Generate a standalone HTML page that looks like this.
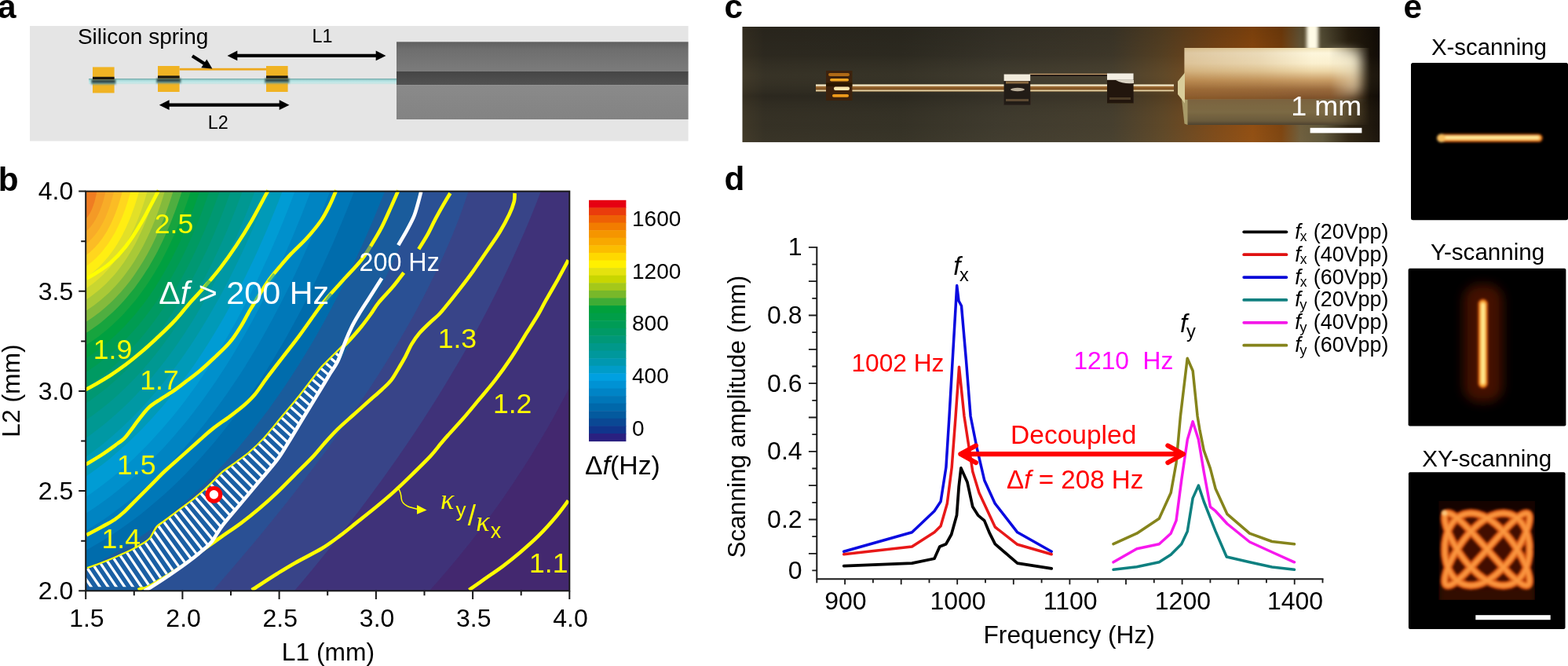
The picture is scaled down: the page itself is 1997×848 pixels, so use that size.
<!DOCTYPE html>
<html lang="en"><head><meta charset="utf-8"><title>Figure</title>
<style>
html,body{margin:0;padding:0;background:#fff;}
body{width:1997px;height:848px;overflow:hidden;}
svg{display:block;}
text{font-family:"Liberation Sans", sans-serif;}
.lbl{font-weight:bold;font-size:42.3px;fill:#000;}
.it{font-style:italic;}
.ser{font-family:"Liberation Serif","DejaVu Serif",serif;font-style:italic;}
</style></head>
<body>
<svg width="1997" height="848" viewBox="0 0 1997 848">
<defs>
<linearGradient id="gA1" x1="0" y1="0" x2="0" y2="1"><stop offset="0" stop-color="#5f5f5f"/><stop offset="0.25" stop-color="#6e6e6e"/><stop offset="1" stop-color="#7c7c7c"/></linearGradient>
<linearGradient id="gA2" x1="0" y1="0" x2="0" y2="1"><stop offset="0" stop-color="#454545"/><stop offset="1" stop-color="#535353"/></linearGradient>
<linearGradient id="gA3" x1="0" y1="0" x2="0" y2="1"><stop offset="0" stop-color="#8a8a8a"/><stop offset="1" stop-color="#838383"/></linearGradient>
<linearGradient id="gAf" x1="0" y1="0" x2="0" y2="1"><stop offset="0" stop-color="#6fa5a5"/><stop offset="0.3" stop-color="#a5d8d8"/><stop offset="0.6" stop-color="#bfe8e8"/><stop offset="1" stop-color="#cfe4e2"/></linearGradient>
<filter id="blA" x="-20%" y="-50%" width="140%" height="200%"><feGaussianBlur stdDeviation="1.2"/></filter>
</defs>
<g id="panel-a">
<text class="lbl" x="-2.9" y="23.4">a</text>
<rect x="38" y="33" width="838.6" height="146.6" fill="#e5e5e5"/>
<rect x="505" y="53.3" width="371.6" height="38" fill="url(#gA1)"/>
<rect x="505" y="91" width="371.6" height="17.5" fill="url(#gA2)"/>
<rect x="505" y="108.5" width="371.6" height="43.5" fill="url(#gA3)"/>
<rect x="113" y="100" width="392" height="7.2" fill="url(#gAf)"/>
<rect x="118" y="85.4" width="27.6" height="33" fill="#f0b323"/>
<rect x="116" y="101.0" width="31.6" height="6.6" fill="#6a9a9a" filter="url(#blA)"/>
<rect x="117" y="101.80000000000001" width="29.6" height="3.4" fill="#1e2a28" opacity="0.8" filter="url(#blA)"/>
<rect x="118" y="97.80000000000001" width="27.6" height="3.2" fill="#1a160e"/>
<rect x="201" y="84" width="27.6" height="33" fill="#f0b323"/>
<rect x="199" y="99.6" width="31.6" height="6.6" fill="#6a9a9a" filter="url(#blA)"/>
<rect x="200" y="100.4" width="29.6" height="3.4" fill="#1e2a28" opacity="0.8" filter="url(#blA)"/>
<rect x="201" y="96.4" width="27.6" height="3.2" fill="#1a160e"/>
<rect x="339" y="84" width="27.6" height="33" fill="#f0b323"/>
<rect x="337" y="99.6" width="31.6" height="6.6" fill="#6a9a9a" filter="url(#blA)"/>
<rect x="338" y="100.4" width="29.6" height="3.4" fill="#1e2a28" opacity="0.8" filter="url(#blA)"/>
<rect x="339" y="96.4" width="27.6" height="3.2" fill="#1a160e"/>
<rect x="228.6" y="86.8" width="110.4" height="2.8" fill="#eda81e"/>
<path d="M301.3,68.80000000000001H479.7V73.0H301.3Z" fill="#000"/><path d="M289.5,70.9L302.3,64.5V77.30000000000001Z" fill="#000"/><path d="M491.5,70.9L478.7,64.5V77.30000000000001Z" fill="#000"/>
<path d="M214.60000000000002,131.6H356.7V135.79999999999998H214.60000000000002Z" fill="#000"/><path d="M202.8,133.7L215.60000000000002,127.29999999999998V140.1Z" fill="#000"/><path d="M368.5,133.7L355.7,127.29999999999998V140.1Z" fill="#000"/>
<path d="M244.9,71.2L261,81.5" stroke="#000" stroke-width="4.3" fill="none"/>
<path d="M270.4,87.6L256.3,86.3L263.3,75.4Z" fill="#000"/>
<text x="98.9" y="56.3" font-size="28" fill="#000">Silicon spring</text>
<text x="410.6" y="53.6" font-size="23.4" fill="#000" text-anchor="middle">L1</text>
<text x="277.8" y="163.8" font-size="23.4" fill="#000" text-anchor="middle">L2</text>
</g>
<defs>
<clipPath id="clipB"><rect x="109.2" y="243.6" width="616.0999999999999" height="508.69999999999993"/></clipPath>
<pattern id="hatch" patternUnits="userSpaceOnUse" width="9.5" height="9.5" patternTransform="rotate(-33.7)"><rect x="0" y="0" width="9.5" height="9.5" fill="#1a5fa4"/><rect x="0" y="0" width="3.8" height="9.5" fill="#fff"/></pattern>
</defs>
<g id="panel-b">
<text class="lbl" x="-2.2" y="242.5">b</text>
<g clip-path="url(#clipB)">
<rect x="109.2" y="243.6" width="616.0999999999999" height="508.69999999999993" fill="#ef7d22"/>
<path d="M194.8,-149.6L123.3,244.0L123.1,245.3L122.8,246.5L122.6,247.7L122.3,248.9L122.1,250.1L121.8,251.2L121.5,252.3L121.3,253.5L121.0,254.6L120.7,255.6L120.4,256.7L120.1,257.7L119.8,258.8L119.5,259.8L119.1,260.7L118.8,261.7L118.5,262.6L118.1,263.6L117.8,264.5L117.4,265.4L117.1,266.2L116.7,267.1L116.3,267.9L116.0,268.7L115.6,269.5L115.2,270.3L114.8,271.0L114.4,271.7L114.0,272.4L113.5,273.1L113.1,273.8L112.7,274.5L112.2,275.1L111.8,275.7L111.4,276.3L110.9,276.9L110.4,277.4L110.0,278.0L109.5,278.5L109.0,279.0L-172.7,562.9L-2000.0,4000.0L4000.0,4000.0L4000.0,-2000.0Z" fill="#f49a26"/>
<path d="M221.3,-146.5L134.5,244.0L134.1,245.8L133.7,247.6L133.2,249.4L132.8,251.1L132.3,252.8L131.8,254.5L131.4,256.2L130.9,257.8L130.4,259.4L129.8,261.0L129.3,262.5L128.8,264.0L128.2,265.5L127.7,267.0L127.1,268.4L126.5,269.8L125.9,271.2L125.3,272.5L124.7,273.8L124.0,275.1L123.4,276.4L122.7,277.6L122.1,278.8L121.4,280.0L120.7,281.1L120.0,282.3L119.3,283.3L118.6,284.4L117.8,285.4L117.1,286.5L116.3,287.4L115.6,288.4L114.8,289.3L114.0,290.2L113.2,291.1L112.4,291.9L111.5,292.7L110.7,293.5L109.9,294.3L109.0,295.0L-199.8,549.3L-2000.0,4000.0L4000.0,4000.0L4000.0,-2000.0Z" fill="#f8ac28"/>
<path d="M238.3,-145.0L145.1,244.0L144.5,246.4L143.9,248.8L143.3,251.1L142.7,253.4L142.0,255.6L141.3,257.8L140.7,260.0L140.0,262.1L139.2,264.2L138.5,266.3L137.8,268.3L137.0,270.3L136.2,272.2L135.4,274.2L134.6,276.0L133.8,277.9L132.9,279.7L132.1,281.4L131.2,283.2L130.3,284.9L129.4,286.5L128.5,288.1L127.5,289.7L126.6,291.3L125.6,292.8L124.6,294.3L123.6,295.7L122.6,297.1L121.5,298.5L120.5,299.8L119.4,301.1L118.3,302.3L117.2,303.5L116.1,304.7L114.9,305.8L113.8,307.0L112.6,308.0L111.4,309.1L110.2,310.0L109.0,311.0L-208.8,553.9L-2000.0,4000.0L4000.0,4000.0L4000.0,-2000.0Z" fill="#fbbc25"/>
<path d="M254.5,-143.6L155.7,244.0L154.9,246.9L154.2,249.8L153.4,252.6L152.5,255.4L151.7,258.1L150.8,260.8L150.0,263.4L149.0,266.0L148.1,268.6L147.2,271.1L146.2,273.5L145.2,275.9L144.2,278.3L143.2,280.6L142.1,282.9L141.1,285.2L140.0,287.3L138.8,289.5L137.7,291.6L136.6,293.7L135.4,295.7L134.2,297.6L133.0,299.6L131.7,301.4L130.5,303.3L129.2,305.1L127.9,306.8L126.5,308.5L125.2,310.2L123.8,311.8L122.4,313.3L121.0,314.9L119.6,316.3L118.1,317.8L116.7,319.1L115.2,320.5L113.7,321.8L112.1,323.0L110.6,324.2L109.0,325.4L-216.0,558.6L-2000.0,4000.0L4000.0,4000.0L4000.0,-2000.0Z" fill="#ffd61e"/>
<path d="M269.4,-142.5L166.3,244.0L165.4,247.4L164.4,250.8L163.4,254.1L162.4,257.3L161.4,260.5L160.3,263.7L159.3,266.8L158.1,269.8L157.0,272.8L155.8,275.8L154.7,278.6L153.4,281.5L152.2,284.3L150.9,287.0L149.6,289.7L148.3,292.3L147.0,294.9L145.6,297.4L144.2,299.8L142.8,302.3L141.4,304.6L139.9,306.9L138.4,309.2L136.9,311.4L135.3,313.5L133.7,315.6L132.1,317.7L130.5,319.7L128.9,321.6L127.2,323.5L125.5,325.3L123.8,327.1L122.0,328.9L120.2,330.5L118.4,332.2L116.6,333.7L114.7,335.3L112.8,336.7L110.9,338.1L109.0,339.5L-220.8,565.8L-2000.0,4000.0L4000.0,4000.0L4000.0,-2000.0Z" fill="#ffee12"/>
<path d="M283.3,-141.6L177.0,244.0L175.9,247.9L174.8,251.8L173.6,255.6L172.4,259.3L171.2,263.0L169.9,266.6L168.6,270.1L167.3,273.6L166.0,277.1L164.6,280.4L163.2,283.8L161.7,287.0L160.3,290.2L158.8,293.3L157.2,296.4L155.7,299.4L154.1,302.4L152.5,305.3L150.8,308.1L149.1,310.9L147.4,313.6L145.7,316.2L143.9,318.8L142.1,321.3L140.2,323.8L138.4,326.2L136.5,328.6L134.5,330.8L132.6,333.1L130.6,335.2L128.6,337.3L126.5,339.4L124.4,341.4L122.3,343.3L120.2,345.2L118.0,347.0L115.8,348.7L113.6,350.4L111.3,352.0L109.0,353.6L-224.3,574.8L-2000.0,4000.0L4000.0,4000.0L4000.0,-2000.0Z" fill="#e2e028"/>
<path d="M296.1,-141.0L187.5,244.0L186.2,248.4L184.9,252.8L183.6,257.1L182.2,261.3L180.8,265.4L179.3,269.5L177.8,273.5L176.3,277.4L174.8,281.3L173.2,285.1L171.5,288.9L169.9,292.5L168.2,296.1L166.5,299.7L164.7,303.1L162.9,306.5L161.0,309.9L159.2,313.1L157.3,316.3L155.3,319.5L153.3,322.5L151.3,325.5L149.3,328.4L147.2,331.3L145.1,334.1L142.9,336.8L140.7,339.4L138.5,342.0L136.2,344.5L133.9,347.0L131.6,349.4L129.2,351.7L126.8,353.9L124.4,356.1L121.9,358.2L119.4,360.2L116.8,362.2L114.3,364.1L111.7,365.9L109.0,367.7L-226.6,585.4L-2000.0,4000.0L4000.0,4000.0L4000.0,-2000.0Z" fill="#c9d630"/>
<path d="M309.4,-140.3L198.5,244.0L197.0,248.9L195.6,253.8L194.0,258.6L192.4,263.3L190.8,267.9L189.2,272.4L187.5,276.9L185.8,281.3L184.0,285.6L182.2,289.9L180.3,294.0L178.4,298.1L176.5,302.1L174.5,306.1L172.5,309.9L170.4,313.7L168.3,317.4L166.2,321.1L164.0,324.6L161.8,328.1L159.5,331.5L157.2,334.9L154.9,338.1L152.5,341.3L150.1,344.4L147.7,347.4L145.2,350.4L142.6,353.3L140.0,356.1L137.4,358.8L134.8,361.5L132.1,364.0L129.3,366.5L126.5,369.0L123.7,371.3L120.8,373.6L117.9,375.8L115.0,377.9L112.0,379.9L109.0,381.9L-228.8,596.2L-2000.0,4000.0L4000.0,4000.0L4000.0,-2000.0Z" fill="#a9c937"/>
<path d="M322.8,-139.7L209.7,244.0L208.1,249.4L206.4,254.8L204.7,260.0L202.9,265.2L201.1,270.3L199.2,275.3L197.3,280.3L195.3,285.1L193.3,289.9L191.3,294.5L189.2,299.1L187.1,303.6L184.9,308.1L182.7,312.4L180.4,316.7L178.1,320.8L175.7,324.9L173.3,328.9L170.9,332.9L168.4,336.7L165.9,340.5L163.3,344.1L160.6,347.7L158.0,351.2L155.2,354.7L152.5,358.0L149.7,361.3L146.8,364.4L143.9,367.5L141.0,370.5L138.0,373.5L134.9,376.3L131.8,379.1L128.7,381.7L125.5,384.3L122.3,386.8L119.1,389.2L115.8,391.6L112.4,393.8L109.0,396.0L-230.7,607.3L-2000.0,4000.0L4000.0,4000.0L4000.0,-2000.0Z" fill="#84ba3c"/>
<path d="M337.0,-138.6L220.4,244.0L218.6,249.9L216.7,255.8L214.7,261.5L212.7,267.2L210.7,272.7L208.6,278.2L206.5,283.6L204.3,288.9L202.1,294.1L199.8,299.2L197.5,304.2L195.1,309.2L192.7,314.0L190.2,318.7L187.7,323.4L185.1,328.0L182.5,332.4L179.8,336.8L177.1,341.1L174.3,345.3L171.5,349.4L168.7,353.4L165.8,357.4L162.8,361.2L159.8,364.9L156.8,368.6L153.7,372.2L150.5,375.6L147.3,379.0L144.1,382.3L140.8,385.5L137.4,388.6L134.1,391.6L130.6,394.6L127.1,397.4L123.6,400.1L120.0,402.8L116.4,405.3L112.7,407.8L109.0,410.2L-230.6,621.6L-2000.0,4000.0L4000.0,4000.0L4000.0,-2000.0Z" fill="#4fae40"/>
<path d="M352.1,-137.4L231.6,244.0L229.5,250.4L227.4,256.8L225.2,263.0L223.0,269.1L220.7,275.1L218.4,281.1L216.0,286.9L213.6,292.7L211.1,298.3L208.6,303.8L206.0,309.3L203.4,314.6L200.7,319.9L198.0,325.0L195.2,330.1L192.3,335.0L189.5,339.9L186.5,344.6L183.5,349.3L180.5,353.8L177.4,358.3L174.3,362.6L171.1,366.9L167.8,371.1L164.5,375.1L161.2,379.1L157.8,383.0L154.3,386.7L150.8,390.4L147.3,394.0L143.7,397.5L140.0,400.8L136.3,404.1L132.6,407.3L128.8,410.4L124.9,413.4L121.0,416.2L117.1,419.0L113.1,421.7L109.0,424.3L-230.7,635.5L-2000.0,4000.0L4000.0,4000.0L4000.0,-2000.0Z" fill="#17a43e"/>
<path d="M366.3,-136.5L242.8,244.0L240.5,251.0L238.1,257.8L235.7,264.6L233.3,271.2L230.7,277.8L228.2,284.2L225.5,290.6L222.9,296.8L220.1,302.9L217.3,308.9L214.5,314.8L211.6,320.6L208.7,326.3L205.7,331.9L202.6,337.4L199.5,342.8L196.4,348.0L193.1,353.2L189.9,358.2L186.6,363.2L183.2,368.0L179.8,372.8L176.3,377.4L172.8,381.9L169.2,386.3L165.5,390.6L161.8,394.8L158.1,398.9L154.3,402.9L150.4,406.8L146.5,410.6L142.6,414.3L138.6,417.8L134.5,421.3L130.4,424.6L126.2,427.9L122.0,431.0L117.7,434.1L113.4,437.0L109.0,439.8L-229.9,652.3L-2000.0,4000.0L4000.0,4000.0L4000.0,-2000.0Z" fill="#00a040"/>
<path d="M379.7,-135.8L254.0,244.0L251.5,251.6L248.9,259.0L246.2,266.3L243.5,273.5L240.7,280.6L237.9,287.6L235.0,294.5L232.1,301.2L229.1,307.9L226.0,314.4L222.9,320.8L219.8,327.1L216.6,333.3L213.3,339.3L210.0,345.3L206.6,351.1L203.2,356.8L199.7,362.4L196.2,367.9L192.6,373.3L188.9,378.5L185.2,383.7L181.4,388.7L177.6,393.6L173.7,398.4L169.8,403.1L165.8,407.6L161.8,412.1L157.7,416.4L153.5,420.6L149.3,424.7L145.1,428.7L140.8,432.6L136.4,436.4L132.0,440.0L127.5,443.5L122.9,446.9L118.4,450.2L113.7,453.4L109.0,456.5L-228.4,671.3L-2000.0,4000.0L4000.0,4000.0L4000.0,-2000.0Z" fill="#009c52"/>
<path d="M394.6,-134.9L266.3,244.0L263.5,252.2L260.6,260.2L257.7,268.2L254.7,276.0L251.6,283.7L248.5,291.2L245.4,298.7L242.1,306.0L238.9,313.2L235.5,320.2L232.1,327.2L228.7,334.0L225.2,340.7L221.6,347.2L218.0,353.7L214.3,360.0L210.6,366.2L206.8,372.3L203.0,378.2L199.1,384.0L195.1,389.7L191.1,395.3L187.0,400.8L182.9,406.1L178.7,411.3L174.4,416.4L170.1,421.3L165.8,426.1L161.4,430.8L156.9,435.4L152.3,439.9L147.8,444.2L143.1,448.4L138.4,452.5L133.7,456.5L128.8,460.3L124.0,464.0L119.0,467.6L114.0,471.1L109.0,474.4L-227.0,691.4L-2000.0,4000.0L4000.0,4000.0L4000.0,-2000.0Z" fill="#009a62"/>
<path d="M410.7,-133.9L279.5,244.0L276.4,252.8L273.2,261.6L270.0,270.1L266.7,278.6L263.3,286.9L259.9,295.1L256.4,303.1L252.9,311.0L249.3,318.8L245.6,326.5L241.9,334.0L238.2,341.3L234.3,348.6L230.4,355.7L226.5,362.7L222.5,369.5L218.4,376.2L214.3,382.8L210.2,389.2L205.9,395.5L201.6,401.7L197.3,407.7L192.9,413.6L188.4,419.4L183.9,425.0L179.3,430.5L174.7,435.9L170.0,441.1L165.2,446.2L160.4,451.2L155.5,456.0L150.6,460.7L145.6,465.3L140.5,469.7L135.4,474.0L130.3,478.2L125.0,482.2L119.7,486.1L114.4,489.9L109.0,493.5L-225.5,712.8L-2000.0,4000.0L4000.0,4000.0L4000.0,-2000.0Z" fill="#009872"/>
<path d="M427.9,-132.8L293.6,244.0L290.1,253.6L286.6,263.0L283.0,272.2L279.4,281.4L275.7,290.3L272.0,299.2L268.1,307.9L264.3,316.4L260.3,324.8L256.3,333.1L252.3,341.2L248.2,349.1L244.0,357.0L239.8,364.6L235.5,372.2L231.1,379.6L226.7,386.8L222.3,393.9L217.7,400.9L213.1,407.7L208.5,414.4L203.8,420.9L199.0,427.3L194.2,433.5L189.3,439.6L184.4,445.6L179.4,451.4L174.3,457.1L169.2,462.6L164.0,468.0L158.8,473.2L153.5,478.3L148.1,483.2L142.7,488.0L137.3,492.7L131.7,497.2L126.1,501.6L120.5,505.8L114.8,509.9L109.0,513.8L-223.9,735.6L-2000.0,4000.0L4000.0,4000.0L4000.0,-2000.0Z" fill="#009882"/>
<path d="M446.2,-131.6L308.6,244.0L304.8,254.3L300.9,264.4L296.9,274.4L292.9,284.3L288.9,293.9L284.7,303.5L280.5,312.8L276.3,322.1L272.0,331.1L267.6,340.0L263.2,348.8L258.7,357.4L254.2,365.8L249.6,374.1L244.9,382.2L240.2,390.2L235.4,398.0L230.6,405.7L225.7,413.2L220.7,420.6L215.7,427.8L210.6,434.8L205.5,441.7L200.3,448.5L195.0,455.1L189.7,461.5L184.3,467.8L178.9,473.9L173.4,479.9L167.8,485.7L162.2,491.3L156.5,496.8L150.8,502.2L145.0,507.4L139.2,512.4L133.2,517.3L127.3,522.0L121.2,526.6L115.1,531.0L109.0,535.3L-222.1,759.7L-2000.0,4000.0L4000.0,4000.0L4000.0,-2000.0Z" fill="#009892"/>
<path d="M465.6,-130.3L324.5,244.0L320.3,255.1L316.0,266.0L311.6,276.8L307.2,287.3L302.7,297.8L298.2,308.0L293.6,318.1L288.9,328.0L284.2,337.8L279.5,347.4L274.6,356.8L269.8,366.1L264.8,375.1L259.8,384.1L254.7,392.8L249.6,401.4L244.4,409.9L239.2,418.1L233.9,426.2L228.5,434.2L223.1,441.9L217.7,449.5L212.1,457.0L206.5,464.2L200.9,471.3L195.2,478.3L189.4,485.0L183.6,491.7L177.7,498.1L171.7,504.4L165.7,510.5L159.6,516.4L153.5,522.2L147.3,527.8L141.1,533.3L134.8,538.5L128.4,543.7L122.0,548.6L115.5,553.4L109.0,558.0L-220.2,785.3L-2000.0,4000.0L4000.0,4000.0L4000.0,-2000.0Z" fill="#0098a4"/>
<path d="M485.6,-129.1L341.3,244.0L336.6,255.9L331.9,267.7L327.1,279.2L322.3,290.6L317.4,301.8L312.4,312.8L307.4,323.7L302.3,334.3L297.1,344.8L292.0,355.1L286.7,365.3L281.4,375.2L276.0,385.0L270.6,394.6L265.1,404.0L259.5,413.3L253.9,422.4L248.3,431.3L242.6,440.0L236.8,448.5L230.9,456.9L225.1,465.0L219.1,473.0L213.1,480.9L207.0,488.5L200.9,496.0L194.7,503.3L188.5,510.4L182.2,517.3L175.8,524.1L169.4,530.7L162.9,537.1L156.4,543.3L149.8,549.3L143.1,555.2L136.4,560.9L129.7,566.4L122.8,571.8L115.9,576.9L109.0,581.9L-218.4,811.7L-2000.0,4000.0L4000.0,4000.0L4000.0,-2000.0Z" fill="#009ab8"/>
<path d="M502.4,-129.6L359.5,244.0L354.5,256.9L349.4,269.6L344.3,282.1L339.1,294.5L333.8,306.6L328.5,318.5L323.1,330.3L317.6,341.8L312.1,353.1L306.5,364.3L300.9,375.2L295.1,386.0L289.4,396.5L283.5,406.9L277.6,417.0L271.6,427.0L265.6,436.7L259.5,446.3L253.3,455.7L247.1,464.9L240.8,473.8L234.4,482.6L228.0,491.2L221.5,499.6L215.0,507.8L208.4,515.8L201.7,523.6L194.9,531.2L188.1,538.6L181.3,545.8L174.3,552.8L167.3,559.6L160.3,566.2L153.1,572.6L145.9,578.8L138.7,584.9L131.4,590.7L124.0,596.3L116.5,601.8L109.0,607.0L-221.6,832.1L-2000.0,4000.0L4000.0,4000.0L4000.0,-2000.0Z" fill="#009cd4"/>
<path d="M515.8,-130.6L375.4,244.0L370.1,257.9L364.7,271.7L359.3,285.2L353.8,298.5L348.2,311.5L342.6,324.4L336.8,337.1L331.0,349.5L325.2,361.7L319.3,373.7L313.3,385.5L307.2,397.0L301.1,408.4L294.9,419.5L288.6,430.4L282.2,441.1L275.8,451.6L269.3,461.9L262.8,471.9L256.1,481.8L249.5,491.4L242.7,500.8L235.9,510.0L229.0,518.9L222.0,527.7L214.9,536.2L207.8,544.5L200.6,552.6L193.4,560.5L186.1,568.2L178.7,575.6L171.2,582.9L163.7,589.9L156.1,596.7L148.4,603.3L140.7,609.7L132.9,615.8L125.0,621.8L117.0,627.5L109.0,633.0L-223.3,855.7L-2000.0,4000.0L4000.0,4000.0L4000.0,-2000.0Z" fill="#0090cc"/>
<path d="M536.3,-130.4L395.5,244.0L389.8,258.8L384.1,273.4L378.3,287.8L372.4,301.9L366.4,315.8L360.4,329.5L354.2,342.9L348.0,356.1L341.8,369.1L335.4,381.8L329.0,394.3L322.5,406.5L315.9,418.5L309.2,430.3L302.5,441.8L295.7,453.2L288.8,464.2L281.8,475.1L274.8,485.7L267.6,496.0L260.4,506.2L253.2,516.1L245.8,525.7L238.4,535.2L230.9,544.3L223.3,553.3L215.6,562.0L207.9,570.5L200.1,578.8L192.2,586.8L184.2,594.6L176.1,602.1L168.0,609.4L159.8,616.5L151.5,623.3L143.2,629.9L134.8,636.3L126.2,642.4L117.7,648.3L109.0,654.0L-228.3,869.0L-2000.0,4000.0L4000.0,4000.0L4000.0,-2000.0Z" fill="#0084c2"/>
<path d="M562.3,-129.9L420.2,244.0L414.1,259.8L407.9,275.4L401.6,290.7L395.3,305.7L388.8,320.5L382.3,335.0L375.7,349.3L369.0,363.3L362.2,377.1L355.3,390.6L348.4,403.8L341.3,416.8L334.2,429.5L327.0,442.0L319.6,454.2L312.3,466.2L304.8,477.9L297.2,489.3L289.6,500.5L281.8,511.4L274.0,522.1L266.1,532.5L258.1,542.7L250.0,552.6L241.8,562.2L233.6,571.6L225.3,580.7L216.8,589.6L208.3,598.2L199.7,606.6L191.0,614.7L182.3,622.5L173.4,630.1L164.5,637.4L155.4,644.5L146.3,651.3L137.1,657.9L127.8,664.2L118.5,670.2L109.0,676.0L-234.7,880.6L-2000.0,4000.0L4000.0,4000.0L4000.0,-2000.0Z" fill="#0078b8"/>
<path d="M594.6,-129.3L450.9,244.0L444.3,261.0L437.5,277.7L430.7,294.1L423.8,310.2L416.7,326.0L409.6,341.5L402.4,356.8L395.1,371.8L387.7,386.5L380.1,400.9L372.5,415.0L364.8,428.9L357.0,442.4L349.1,455.7L341.1,468.7L333.0,481.4L324.8,493.8L316.5,505.9L308.1,517.8L299.6,529.4L291.0,540.6L282.3,551.6L273.5,562.4L264.6,572.8L255.6,582.9L246.5,592.8L237.3,602.4L228.1,611.7L218.7,620.7L209.2,629.4L199.6,637.8L189.9,646.0L180.2,653.9L170.3,661.4L160.3,668.7L150.3,675.8L140.1,682.5L129.8,689.0L119.5,695.1L109.0,701.0L-242.1,892.7L-2000.0,4000.0L4000.0,4000.0L4000.0,-2000.0Z" fill="#006cac"/>
<path d="M637.1,-128.0L490.0,244.0L482.7,262.1L475.3,280.0L467.8,297.5L460.1,314.7L452.4,331.6L444.5,348.1L436.5,364.4L428.4,380.3L420.2,395.9L411.9,411.2L403.5,426.2L394.9,440.9L386.2,455.3L377.5,469.3L368.6,483.1L359.5,496.5L350.4,509.6L341.2,522.4L331.8,534.8L322.4,547.0L312.8,558.8L303.1,570.4L293.3,581.6L283.3,592.5L273.3,603.1L263.2,613.3L252.9,623.3L242.5,632.9L232.0,642.2L221.4,651.2L210.7,659.9L199.8,668.3L188.9,676.4L177.8,684.1L166.6,691.6L155.3,698.7L143.9,705.5L132.4,712.0L120.8,718.1L109.0,724.0L-251.2,897.9L-2000.0,4000.0L4000.0,4000.0L4000.0,-2000.0Z" fill="#1a5c9c"/>
<path d="M667.6,-133.9L536.3,244.0L531.4,257.9L526.3,271.7L520.9,285.4L515.4,299.1L509.7,312.7L503.8,326.3L497.6,339.8L491.3,353.2L484.8,366.6L478.1,379.9L471.2,393.2L464.1,406.4L456.7,419.6L449.2,432.7L441.5,445.7L433.6,458.7L425.5,471.6L417.2,484.5L408.7,497.3L400.0,510.0L391.1,522.7L382.0,535.3L372.7,547.9L363.2,560.4L353.4,572.8L343.5,585.2L333.4,597.5L323.1,609.8L312.6,622.0L301.9,634.1L291.0,646.2L279.9,658.3L268.7,670.2L257.2,682.2L245.5,694.0L233.6,705.8L221.5,717.5L209.2,729.2L196.7,740.8L184.0,752.4L-113.1,1020.2L-2000.0,4000.0L4000.0,4000.0L4000.0,-2000.0Z" fill="#2a5094"/>
<path d="M719.7,-136.5L596.5,244.0L592.8,255.0L589.0,266.0L584.9,277.2L580.5,288.4L576.0,299.7L571.2,311.1L566.1,322.6L560.9,334.2L555.4,345.9L549.7,357.6L543.7,369.5L537.6,381.4L531.2,393.4L524.6,405.5L517.7,417.7L510.6,430.0L503.3,442.4L495.8,454.8L488.0,467.4L480.0,480.0L471.8,492.7L463.3,505.5L454.6,518.4L445.7,531.4L436.6,544.5L427.2,557.6L417.6,570.9L407.8,584.2L397.7,597.6L387.4,611.1L376.9,624.7L366.2,638.4L355.2,652.2L344.0,666.0L332.6,680.0L320.9,694.0L309.0,708.1L296.9,722.3L284.6,736.6L272.0,751.0L7.8,1051.4L-2000.0,4000.0L4000.0,4000.0L4000.0,-2000.0Z" fill="#384488"/>
<path d="M831.2,-129.7L688.7,244.0L683.8,256.7L678.7,269.4L673.5,282.2L668.1,294.9L662.6,307.6L656.9,320.3L651.1,333.0L645.1,345.7L639.0,358.4L632.8,371.1L626.4,383.8L619.8,396.5L613.1,409.2L606.2,421.9L599.2,434.6L592.1,447.3L584.8,460.0L577.3,472.6L569.7,485.3L562.0,498.0L554.1,510.7L546.1,523.3L537.9,536.0L529.5,548.7L521.1,561.3L512.4,574.0L503.6,586.7L494.7,599.3L485.6,612.0L476.4,624.6L467.0,637.3L457.5,649.9L447.8,662.6L438.0,675.2L428.1,687.8L417.9,700.5L407.7,713.1L397.3,725.7L386.7,738.4L376.0,751.0L116.2,1055.2L-2000.0,4000.0L4000.0,4000.0L4000.0,-2000.0Z" fill="#3f3279"/>
<path d="M906.6,137.7L724.8,494.0L721.2,501.0L717.6,507.9L713.9,514.8L710.2,521.7L706.5,528.5L702.7,535.4L698.8,542.2L694.9,548.9L691.0,555.7L687.0,562.4L683.0,569.1L679.0,575.7L674.9,582.4L670.7,589.0L666.6,595.5L662.3,602.1L658.1,608.6L653.8,615.1L649.4,621.6L645.0,628.0L640.6,634.4L636.1,640.8L631.5,647.2L627.0,653.5L622.4,659.8L617.7,666.1L613.0,672.3L608.3,678.5L603.5,684.7L598.7,690.9L593.8,697.0L588.9,703.1L583.9,709.2L578.9,715.3L573.9,721.3L568.8,727.3L563.6,733.3L558.5,739.2L553.3,745.1L548.0,751.0L280.6,1048.5L-2000.0,4000.0L4000.0,4000.0L4000.0,-2000.0Z" fill="#43286f"/>
</g>
<path d="M202.0,242.3C198.4,249.1 187.2,271.2 180.2,283.1C173.2,295.1 166.7,305.3 160.0,314.0C153.3,322.7 146.7,329.4 140.0,335.2C133.3,341.0 125.0,345.8 120.0,349.0C115.0,352.2 111.7,353.7 110.0,354.6" fill="none" stroke="#ffff00" stroke-width="4.6" stroke-linejoin="round"/>
<path d="M341.5,242.3C338.0,248.8 327.3,269.3 320.5,281.1C313.7,292.9 307.2,303.2 300.5,313.2C293.8,323.2 287.1,332.6 280.4,341.3C273.7,350.0 267.1,357.6 260.4,365.3C253.7,373.0 245.5,381.5 240.3,387.4C235.2,393.3 233.1,396.3 229.5,400.5C225.9,404.7 223.4,407.6 218.5,412.5C213.6,417.4 206.7,424.1 200.3,430.0C193.9,435.9 186.9,442.4 180.2,448.1C173.5,453.8 166.9,459.2 160.2,464.2C153.5,469.2 146.8,473.9 140.1,478.2C133.4,482.5 125.2,487.2 120.0,490.2C114.8,493.2 110.8,495.2 109.0,496.2" fill="none" stroke="#ffff00" stroke-width="4.6" stroke-linejoin="round"/>
<path d="M428.2,242.3C426.8,245.4 423.2,254.6 420.0,261.0C416.8,267.4 413.7,274.0 408.8,281.0C403.9,288.0 397.1,296.2 390.7,303.2C384.3,310.2 376.4,317.2 370.7,323.2C365.0,329.2 361.6,333.3 356.6,339.3C351.6,345.3 346.6,350.6 340.6,359.3C334.6,368.0 324.7,384.6 320.5,391.4C316.3,398.2 317.8,395.9 315.5,400.0C313.2,404.1 310.3,410.0 306.5,416.0C302.7,422.0 297.9,429.8 292.5,436.1C287.1,442.5 280.8,448.1 274.4,454.1C268.0,460.1 260.8,466.9 254.4,472.2C248.1,477.5 242.0,481.9 236.3,486.2C230.6,490.5 225.6,494.5 220.3,498.2C215.0,501.9 209.3,505.0 204.3,508.3C199.3,511.6 194.5,514.3 190.2,518.3C185.8,522.3 182.2,527.3 178.2,532.3C174.2,537.3 169.5,544.0 166.2,548.4C162.8,552.8 160.9,555.6 158.1,558.4C155.3,561.2 154.1,561.6 149.4,565.0C144.7,568.4 136.6,574.4 129.9,578.8C123.2,583.2 112.7,589.3 109.2,591.4" fill="none" stroke="#ffff00" stroke-width="4.6" stroke-linejoin="round"/>
<path d="M507.3,242.3C505.8,245.8 501.7,255.3 498.2,263.1C494.7,270.9 490.5,280.8 486.2,289.1C481.9,297.5 476.5,306.2 472.2,313.2C467.9,320.2 465.5,324.5 460.1,331.2C454.8,337.9 446.5,346.3 440.1,353.3C433.8,360.3 427.0,367.6 422.0,373.3C417.0,379.0 413.5,382.9 410.0,387.4C406.5,391.8 405.7,393.2 400.8,400.0C395.9,406.8 387.4,419.1 380.7,428.1C374.0,437.1 367.3,445.4 360.6,454.1C353.9,462.8 346.6,472.2 340.6,480.2C334.6,488.2 329.6,496.3 324.6,502.3C319.6,508.3 315.9,511.6 310.5,516.3C305.1,521.0 299.2,525.3 292.5,530.3C285.8,535.3 277.0,541.2 270.4,546.4C263.8,551.6 259.6,555.7 253.0,561.5C246.4,567.3 238.1,574.8 231.0,581.1C223.9,587.4 216.8,593.4 210.3,599.5C203.8,605.6 198.1,611.8 192.0,617.9C185.9,624.0 179.3,630.5 173.6,636.3C167.8,642.0 162.1,648.2 157.5,652.4C152.9,656.6 150.6,658.5 146.0,661.6C141.4,664.7 135.8,667.5 129.9,670.7C124.0,674.0 113.6,679.4 110.3,681.1" fill="none" stroke="#ffff00" stroke-width="4.6" stroke-linejoin="round"/>
<path d="M573.4,246.0C571.9,248.5 567.6,255.6 564.4,261.1C561.2,266.6 557.8,272.8 554.4,279.1C551.0,285.5 547.8,292.9 544.3,299.2C540.8,305.5 535.1,314.2 533.3,317.2" fill="none" stroke="#ffff00" stroke-width="4.6" stroke-linejoin="round"/>
<path d="M514.3,347.3C511.9,350.3 505.5,359.0 500.2,365.3C494.9,371.6 486.9,379.6 482.2,385.4C477.5,391.2 475.9,394.9 472.2,400.0C468.5,405.1 464.5,410.6 460.1,416.0C455.8,421.4 450.4,427.4 446.1,432.1C441.8,436.8 438.1,440.1 434.1,444.1C430.1,448.1 426.0,452.1 422.0,456.1C418.0,460.1 413.5,464.2 410.0,468.2C406.5,472.2 405.7,473.8 400.8,480.2C395.9,486.6 387.4,498.0 380.7,506.3C374.0,514.6 367.9,521.6 360.6,530.3C353.3,539.0 344.0,550.8 337.0,558.5C330.0,566.2 324.6,571.2 318.4,576.5C312.2,581.8 305.8,586.1 300.0,590.3C294.2,594.5 289.6,596.8 283.9,601.8C278.1,606.8 271.6,614.5 265.5,620.2C259.4,626.0 253.2,631.3 247.1,636.3C241.0,641.3 234.8,645.5 228.7,650.1C222.6,654.7 214.9,660.5 210.3,663.9C205.7,667.3 203.4,668.4 201.1,670.7C198.8,673.0 198.1,675.1 196.6,677.6C195.1,680.1 193.9,683.4 192.0,685.7C190.1,688.0 188.8,688.9 185.0,691.4C181.2,693.9 175.5,697.3 169.0,700.6C162.5,703.9 153.7,707.7 146.0,711.0C138.3,714.3 128.8,718.0 123.0,720.2C117.2,722.4 113.4,723.6 111.5,724.3" fill="none" stroke="#ffff00" stroke-width="4.6" stroke-linejoin="round"/>
<path d="M655.6,246.0C655.4,247.8 655.8,252.6 654.6,257.1C653.4,261.6 651.6,266.8 648.6,273.1C645.6,279.5 641.3,287.5 636.6,295.2C631.9,302.9 626.2,310.8 620.5,319.2C614.8,327.6 608.5,336.9 602.5,345.3C596.5,353.7 590.1,362.0 584.4,369.3C578.7,376.6 572.6,384.3 568.4,389.4C564.2,394.5 563.1,396.2 559.4,400.0C555.7,403.8 550.5,408.0 546.3,412.0C542.1,416.0 538.0,419.8 534.3,424.1C530.6,428.5 527.3,433.1 524.3,438.1C521.3,443.1 519.0,449.1 516.3,454.1C513.6,459.1 511.2,463.2 508.2,468.2C505.2,473.2 501.9,479.5 498.2,484.2C494.5,488.9 490.9,491.8 486.2,496.2C481.5,500.6 476.2,505.0 470.2,510.3C464.2,515.6 456.8,522.3 450.1,528.3C443.4,534.3 436.3,540.3 430.1,546.4C423.9,552.5 418.2,558.9 413.0,564.7C407.8,570.5 405.1,574.5 398.9,581.1C392.7,587.7 383.6,596.4 375.9,604.1C368.2,611.8 360.6,619.8 352.9,627.1C345.2,634.4 337.6,641.3 329.9,647.8C322.2,654.3 314.6,660.4 306.9,666.1C299.2,671.8 291.6,676.8 283.9,682.2C276.2,687.6 268.6,692.9 260.9,698.3C253.2,703.7 245.6,709.2 237.9,714.4C230.2,719.6 222.6,724.6 214.9,729.4C207.2,734.2 198.5,739.6 192.0,743.2C185.5,746.8 178.6,749.9 175.9,751.2" fill="none" stroke="#ffff00" stroke-width="4.6" stroke-linejoin="round"/>
<path d="M723.8,331.2C721.6,335.2 715.6,346.6 710.8,355.3C705.9,364.0 698.9,375.9 694.7,383.4C690.5,390.8 689.7,393.2 685.7,400.0C681.7,406.8 676.5,414.8 670.6,424.1C664.8,433.5 657.3,446.1 650.6,456.1C643.9,466.1 637.2,475.5 630.5,484.2C623.8,492.9 617.2,500.3 610.5,508.3C603.8,516.3 597.1,524.6 590.4,532.3C583.7,540.0 575.3,548.9 570.4,554.4C565.5,559.9 565.0,560.5 561.2,565.0C557.5,569.5 554.0,574.6 547.9,581.1C541.8,587.6 532.5,596.6 524.9,604.1C517.2,611.6 509.6,619.0 502.0,625.9C494.4,632.8 486.7,639.2 479.0,645.5C471.3,651.8 463.7,657.8 456.0,663.9C448.3,670.0 440.7,676.5 433.0,682.2C425.3,687.9 419.5,692.5 410.0,698.3C400.5,704.0 385.4,711.3 375.9,716.7C366.4,722.1 362.1,724.8 352.9,730.5C343.7,736.2 326.1,747.8 320.7,751.2" fill="none" stroke="#ffff00" stroke-width="4.6" stroke-linejoin="round"/>
<path d="M723.8,637.4C721.3,640.7 715.2,649.5 708.9,657.0C702.6,664.5 693.6,674.6 685.9,682.2C678.2,689.9 670.6,696.4 662.9,702.9C655.2,709.4 647.6,715.5 639.9,721.3C632.2,727.0 624.0,732.4 616.9,737.4C609.8,742.4 600.6,748.9 597.4,751.2" fill="none" stroke="#ffff00" stroke-width="4.6" stroke-linejoin="round"/>
<path d="M267.4,357.6L259.6,369.2" stroke="#00987a" stroke-opacity="0.55" stroke-width="5.6" fill="none"/>
<path d="M350.2,349.3L342.6,359.5" stroke="#0098c0" stroke-opacity="0.55" stroke-width="5.6" fill="none"/>
<path d="M329.8,372.2L322.2,384.8" stroke="#0098c0" stroke-opacity="0.55" stroke-width="5.6" fill="none"/>
<path d="M422.4,374.6L413.5,387.2" stroke="#0078b8" stroke-opacity="0.55" stroke-width="5.6" fill="none"/>
<path d="M472.3,313.6L465.8,323.4" stroke="#1a5c9c" stroke-opacity="0.55" stroke-width="5.6" fill="none"/>
<clipPath id="clipH"><path d="M438.0,440.0L434.1,444.1L422.0,456.1L410.0,468.2L400.8,480.2L380.7,506.3L360.6,530.3L337.0,558.5L318.4,576.5L300.0,590.3L283.9,601.8L265.5,620.2L247.1,636.3L228.7,650.1L210.3,663.9L201.1,670.7L196.6,677.6L192.0,685.7L185.0,691.4L169.0,700.6L146.0,711.0L123.0,720.2L110.4,724.6L110.4,747.2L184.0,747.2L192.0,743.2L214.9,729.4L237.9,714.4L260.9,698.3L270.1,689.1L283.9,668.4L306.9,640.9L329.9,613.3L352.9,585.7L367.5,563.0L386.2,532.0L410.0,493.0L420.0,476.2L430.0,460.2Z"/></clipPath>
<path d="M438.0,440.0L434.1,444.1L422.0,456.1L410.0,468.2L400.8,480.2L380.7,506.3L360.6,530.3L337.0,558.5L318.4,576.5L300.0,590.3L283.9,601.8L265.5,620.2L247.1,636.3L228.7,650.1L210.3,663.9L201.1,670.7L196.6,677.6L192.0,685.7L185.0,691.4L169.0,700.6L146.0,711.0L123.0,720.2L110.4,724.6L110.4,747.2L184.0,747.2L192.0,743.2L214.9,729.4L237.9,714.4L260.9,698.3L270.1,689.1L283.9,668.4L306.9,640.9L329.9,613.3L352.9,585.7L367.5,563.0L386.2,532.0L410.0,493.0L420.0,476.2L430.0,460.2Z" fill="#1a5fa4"/>
<path d="M411.5,401.1L480.5,458.9M405.9,408.1L474.8,466.0M400.5,415.3L469.4,473.1M395.2,422.6L464.2,480.5M390.0,429.9L458.9,487.8M384.7,437.2L453.7,495.1M379.5,444.5L448.5,502.4M374.4,451.9L443.3,509.8M369.4,459.1L438.0,517.4M364.4,466.3L432.7,524.9M359.4,473.6L427.4,532.5M354.4,480.8L422.1,540.1M349.4,487.9L416.7,547.6M344.3,495.1L411.4,555.0M339.2,502.2L406.0,562.5M334.1,509.4L400.6,570.0M329.0,516.5L395.2,577.5M324.0,523.7L389.8,585.0M318.9,530.8L384.4,592.5M313.8,538.0L379.0,600.0M308.8,545.1L373.7,607.5M303.1,551.9L367.7,614.5M297.3,558.5L361.6,621.4M291.5,565.1L355.5,628.3M285.7,571.7L349.4,635.2M279.9,578.3L343.3,642.1M274.1,584.8L337.2,649.0M268.2,591.4L331.0,655.9M262.4,598.0L324.9,662.7M256.8,604.2L318.4,669.9M251.2,610.5L311.9,677.0M245.6,616.7L305.4,684.0M240.0,622.9L298.8,691.0M234.3,629.1L292.3,698.0M228.6,635.3L285.6,705.0M222.9,641.4L278.9,711.8M217.1,647.5L272.2,718.7M211.1,653.4L265.3,725.2M204.2,658.4L257.6,730.8M197.2,663.3L249.9,736.3M190.3,668.3L242.2,741.9M182.7,672.2L233.9,746.2M174.9,675.9L225.5,750.3M166.9,679.7L217.2,754.3M158.4,682.6L208.7,757.2M149.3,685.4L199.6,760.0M140.2,688.1L190.5,762.7M131.0,690.5L181.3,765.1M121.7,692.3L172.0,766.9M112.4,694.2L162.7,768.8M103.1,696.0L153.4,770.6M93.7,697.6L144.0,772.2M83.8,699.3L134.2,773.9M74.0,701.0L124.3,775.6" stroke="#fff" stroke-width="3.3" fill="none" clip-path="url(#clipH)"/>
<path d="M536.3,244.0C535.6,246.5 533.8,253.9 532.3,259.1C530.8,264.3 529.6,269.4 527.3,275.1C525.0,280.8 521.6,286.9 518.3,293.1C514.9,299.3 509.0,309.0 507.2,312.2" fill="none" stroke="#fff" stroke-width="4.6" stroke-linejoin="round"/>
<path d="M486.2,354.3C483.5,358.5 475.0,371.8 470.2,379.4C465.4,387.0 460.8,393.9 457.1,400.0C453.4,406.1 450.9,410.3 448.1,416.0C445.3,421.7 443.1,426.7 440.1,434.1C437.1,441.5 433.4,453.2 430.0,460.2C426.6,467.2 423.3,470.7 420.0,476.2C416.7,481.7 415.6,483.7 410.0,493.0C404.4,502.3 393.3,520.3 386.2,532.0C379.1,543.7 373.1,554.0 367.5,563.0C361.9,572.0 359.2,577.3 352.9,585.7C346.6,594.1 337.6,604.1 329.9,613.3C322.2,622.5 314.6,631.7 306.9,640.9C299.2,650.1 290.0,660.4 283.9,668.4C277.8,676.4 273.9,684.1 270.1,689.1C266.3,694.1 266.3,693.7 260.9,698.3C255.5,702.9 245.6,711.0 237.9,716.7C230.2,722.5 222.6,727.6 214.9,732.8C207.2,738.0 197.2,744.5 192.0,747.8C186.8,751.1 185.2,751.6 183.9,752.4" fill="none" stroke="#fff" stroke-width="4.6" stroke-linejoin="round"/>
<rect x="109.2" y="243.6" width="616.0999999999999" height="508.69999999999993" fill="none" stroke="#1a1a1a" stroke-width="2"/>
<path d="M109.2,243.6h-9M109.2,307.2h-6M109.2,370.8h-9M109.2,434.4h-6M109.2,497.9h-9M109.2,561.5h-6M109.2,625.1h-9M109.2,688.7h-6M109.2,752.3h-9M109.2,752.3v10.6M170.8,752.3v6M232.4,752.3v10.6M294.0,752.3v6M355.6,752.3v10.6M417.2,752.3v6M478.9,752.3v10.6M540.5,752.3v6M602.1,752.3v10.6M663.7,752.3v6M725.3,752.3v10.6" stroke="#1a1a1a" stroke-width="2" fill="none"/>
<text x="93.3" y="254.3" font-size="32" text-anchor="end">4.0</text>
<text x="93.3" y="381.5" font-size="32" text-anchor="end">3.5</text>
<text x="93.3" y="508.6" font-size="32" text-anchor="end">3.0</text>
<text x="93.3" y="635.8" font-size="32" text-anchor="end">2.5</text>
<text x="93.3" y="763.0" font-size="32" text-anchor="end">2.0</text>
<text x="110.4" y="797.8" font-size="32" text-anchor="middle">1.5</text>
<text x="233.6" y="797.8" font-size="32" text-anchor="middle">2.0</text>
<text x="356.8" y="797.8" font-size="32" text-anchor="middle">2.5</text>
<text x="480.1" y="797.8" font-size="32" text-anchor="middle">3.0</text>
<text x="603.3" y="797.8" font-size="32" text-anchor="middle">3.5</text>
<text x="726.5" y="797.8" font-size="32" text-anchor="middle">4.0</text>
<text x="418" y="840.7" font-size="31.8" text-anchor="middle">L1 (mm)</text>
<text transform="translate(25.1,556.8) rotate(-90)" font-size="31.8">L2 (mm)</text>
<text x="196.8" y="297.2" font-size="35.6" fill="#ffff00">2.5</text>
<text x="118.8" y="456.6" font-size="35.6" fill="#ffff00">1.9</text>
<text x="178.3" y="495.7" font-size="35.6" fill="#ffff00">1.7</text>
<text x="149.0" y="604.1" font-size="35.6" fill="#ffff00">1.5</text>
<text x="129.5" y="698.3" font-size="35.6" fill="#ffff00">1.4</text>
<text x="557.7" y="443.1" font-size="35.6" fill="#ffff00">1.3</text>
<text x="627.9" y="526.3" font-size="35.6" fill="#ffff00">1.2</text>
<text x="674.0" y="729.4" font-size="35.6" fill="#ffff00">1.1</text>
<text x="202.2" y="386.6" font-size="41.3" fill="#fff">Δ<tspan class="it">f</tspan> &gt; 200 Hz</text>
<text x="457.5" y="344.9" font-size="32.3" fill="#fff">200 Hz</text>
<circle cx="272.4" cy="629.8" r="8.3" fill="#fff" stroke="#ff0000" stroke-width="5.2"/>
<g fill="#ffff00"><text x="561" y="648.2" font-size="36" class="ser">κ</text><text x="580.6" y="657.5" font-size="26">y</text><text x="595.8" y="668.7" font-size="37">/</text><text x="606.3" y="676.3" font-size="36" class="ser">κ</text><text x="624.7" y="684.8" font-size="27">x</text></g>
<path d="M507.7,622.7C510.5,626 510.8,630 511.2,635C511.8,640.5 515,642.5 519,644.5C523,646.3 528,647.4 532,648.3" fill="none" stroke="#ffff00" stroke-width="1.5"/>
<path d="M543.5,649.5L531,643V654.8Z" fill="#ffff00"/>
<rect x="750" y="254.80" width="47.4" height="10.09" fill="#e60012"/>
<rect x="750" y="264.39" width="47.4" height="10.09" fill="#ea3c0c"/>
<rect x="750" y="273.98" width="47.4" height="10.09" fill="#ee6005"/>
<rect x="750" y="283.56" width="47.4" height="10.09" fill="#f27c00"/>
<rect x="750" y="293.15" width="47.4" height="10.09" fill="#f59500"/>
<rect x="750" y="302.74" width="47.4" height="10.09" fill="#f8a800"/>
<rect x="750" y="312.33" width="47.4" height="10.09" fill="#fbbd00"/>
<rect x="750" y="321.91" width="47.4" height="10.09" fill="#fed800"/>
<rect x="750" y="331.50" width="47.4" height="10.09" fill="#fff000"/>
<rect x="750" y="341.09" width="47.4" height="10.09" fill="#e4e20e"/>
<rect x="750" y="350.68" width="47.4" height="10.09" fill="#c8d600"/>
<rect x="750" y="360.26" width="47.4" height="10.09" fill="#a4c81a"/>
<rect x="750" y="369.85" width="47.4" height="10.09" fill="#78b82a"/>
<rect x="750" y="379.44" width="47.4" height="10.09" fill="#3eac35"/>
<rect x="750" y="389.02" width="47.4" height="10.09" fill="#00a03c"/>
<rect x="750" y="398.61" width="47.4" height="10.09" fill="#009e48"/>
<rect x="750" y="408.20" width="47.4" height="10.09" fill="#009c56"/>
<rect x="750" y="417.79" width="47.4" height="10.09" fill="#009a66"/>
<rect x="750" y="427.38" width="47.4" height="10.09" fill="#009878"/>
<rect x="750" y="436.96" width="47.4" height="10.09" fill="#00988a"/>
<rect x="750" y="446.55" width="47.4" height="10.09" fill="#00989c"/>
<rect x="750" y="456.14" width="47.4" height="10.09" fill="#0098b0"/>
<rect x="750" y="465.73" width="47.4" height="10.09" fill="#009cc8"/>
<rect x="750" y="475.31" width="47.4" height="10.09" fill="#00a0e0"/>
<rect x="750" y="484.90" width="47.4" height="10.09" fill="#0092d4"/>
<rect x="750" y="494.49" width="47.4" height="10.09" fill="#0084c6"/>
<rect x="750" y="504.08" width="47.4" height="10.09" fill="#0076b8"/>
<rect x="750" y="513.66" width="47.4" height="10.09" fill="#0068aa"/>
<rect x="750" y="523.25" width="47.4" height="10.09" fill="#045a9e"/>
<rect x="750" y="532.84" width="47.4" height="10.09" fill="#0a4894"/>
<rect x="750" y="542.42" width="47.4" height="10.09" fill="#10358c"/>
<rect x="750" y="552.01" width="47.4" height="10.09" fill="#2a2080"/>
<text x="805" y="288.3" font-size="28">1600</text>
<text x="805" y="354.9" font-size="28">1200</text>
<text x="805" y="421.2" font-size="28">800</text>
<text x="805" y="487.7" font-size="28">400</text>
<text x="805" y="554.6" font-size="28">0</text>
<text x="745" y="603.7" font-size="33.8">Δ<tspan class="it">f</tspan>(Hz)</text>
</g>
<defs>
<clipPath id="clipC"><rect x="945.3" y="33.9" width="812.2" height="147.4"/></clipPath>
<linearGradient id="gC0" gradientUnits="userSpaceOnUse" x1="945" y1="0" x2="1758" y2="0"><stop offset="0" stop-color="#3a3324"/><stop offset="0.035" stop-color="#2f2b21"/><stop offset="0.25" stop-color="#2f2c22"/><stop offset="0.40" stop-color="#39352a"/><stop offset="0.58" stop-color="#413a2b"/><stop offset="0.66" stop-color="#5a4324"/><stop offset="0.74" stop-color="#7a4616"/><stop offset="0.80" stop-color="#8e4a0e"/><stop offset="0.845" stop-color="#7a400c"/><stop offset="0.875" stop-color="#6a5a3a"/><stop offset="0.91" stop-color="#5a5238"/><stop offset="0.95" stop-color="#2a2010"/><stop offset="1" stop-color="#120c06"/></linearGradient>
<linearGradient id="gC1" x1="0" y1="0" x2="0" y2="1"><stop offset="0" stop-color="#000" stop-opacity="0.16"/><stop offset="0.25" stop-color="#000" stop-opacity="0.06"/><stop offset="0.42" stop-color="#f0e0a0" stop-opacity="0.04"/><stop offset="0.6" stop-color="#000" stop-opacity="0.08"/><stop offset="0.85" stop-color="#f0e0a0" stop-opacity="0.03"/><stop offset="1" stop-color="#f0e0a0" stop-opacity="0.05"/></linearGradient>
<linearGradient id="gCyl" x1="0" y1="0" x2="0" y2="1"><stop offset="0" stop-color="#f1e3b8"/><stop offset="0.10" stop-color="#fdf6dc"/><stop offset="0.30" stop-color="#fbf0cf"/><stop offset="0.45" stop-color="#ecd5a6"/><stop offset="0.62" stop-color="#c99d66"/><stop offset="0.80" stop-color="#9a6a3c"/><stop offset="1" stop-color="#7a4e28"/></linearGradient>
<linearGradient id="gCyl2" x1="0" y1="0" x2="0" y2="1"><stop offset="0" stop-color="#7a6340"/><stop offset="0.5" stop-color="#7c6a44"/><stop offset="0.85" stop-color="#6a5a3c"/><stop offset="1" stop-color="#4c4230"/></linearGradient>
<linearGradient id="gCfade" gradientUnits="userSpaceOnUse" x1="1508" y1="0" x2="1745" y2="0"><stop offset="0" stop-color="#fff" stop-opacity="1"/><stop offset="0.78" stop-color="#fff" stop-opacity="1"/><stop offset="0.93" stop-color="#fff" stop-opacity="0.35"/><stop offset="1" stop-color="#fff" stop-opacity="0"/></linearGradient>
<linearGradient id="gCylT" gradientUnits="userSpaceOnUse" x1="1508" y1="0" x2="1700" y2="0"><stop offset="0" stop-color="#a06a2c" stop-opacity="0.34"/><stop offset="0.5" stop-color="#a06a2c" stop-opacity="0.2"/><stop offset="0.85" stop-color="#a06a2c" stop-opacity="0"/></linearGradient>
<mask id="mCyl"><rect x="1500" y="30" width="260" height="160" fill="url(#gCfade)"/></mask>
<linearGradient id="gFib" x1="0" y1="0" x2="0" y2="1"><stop offset="0" stop-color="#cdbb90"/><stop offset="0.16" stop-color="#fbf5dc"/><stop offset="0.34" stop-color="#9a6830"/><stop offset="0.66" stop-color="#7c5022"/><stop offset="0.84" stop-color="#ecdcae"/><stop offset="1" stop-color="#6b4e2a"/></linearGradient>
<filter id="blC1" x="-30%" y="-30%" width="160%" height="160%"><feGaussianBlur stdDeviation="0.7"/></filter>
<filter id="blC2" x="-30%" y="-30%" width="160%" height="160%"><feGaussianBlur stdDeviation="2.2"/></filter>
<filter id="blC3" x="-50%" y="-50%" width="200%" height="200%"><feGaussianBlur stdDeviation="7"/></filter>
</defs>
<g id="panel-c">
<text class="lbl" x="922.5" y="23.3">c</text>
<g clip-path="url(#clipC)">
<rect x="945.3" y="33.9" width="812.2" height="147.4" fill="url(#gC0)"/>
<rect x="945.3" y="33.9" width="812.2" height="147.4" fill="url(#gC1)"/>
<rect x="1690" y="66" width="42" height="56" rx="10" fill="#fff6d8" opacity="0.85" filter="url(#blC3)"/>
<rect x="1664" y="30" width="15" height="34" fill="#fffbe6" filter="url(#blC2)"/>
<g mask="url(#mCyl)" filter="url(#blC1)">
<rect x="1508.5" y="61" width="240" height="66" fill="url(#gCyl)"/>
<rect x="1512" y="126" width="236" height="33" fill="url(#gCyl2)"/>
<rect x="1508.5" y="61" width="240" height="66" fill="url(#gCylT)"/>
<path d="M1505,126L1512.5,127V159L1508.5,157.5Z" fill="#a89a68"/>
<path d="M1493.5,111.8L1509,92.5V131.5Z" fill="#d9cd9a"/>
</g>
<g filter="url(#blC1)">
<rect x="1039" y="107.3" width="456" height="9.6" fill="url(#gFib)"/>
<rect x="1311" y="93.8" width="100" height="1.4" fill="#c9a070"/>
<rect x="1311" y="95.2" width="100" height="1.6" fill="#1c140c"/>
<rect x="1052" y="90" width="33.4" height="38" fill="#3e2308"/>
<rect x="1055" y="93" width="27" height="4" rx="2" fill="#b06a14"/>
<rect x="1057" y="100" width="24" height="3.6" rx="1.8" fill="#f0a424"/>
<rect x="1052" y="105.5" width="33.4" height="4.5" fill="#2c1804"/>
<rect x="1062" y="110.5" width="20" height="4.6" rx="2" fill="#fbe7b0"/>
<rect x="1060" y="120" width="21" height="3.8" rx="1.8" fill="#ee9a1c"/>
<rect x="1278.6" y="94.5" width="33.6" height="39" fill="#241a12"/>
<rect x="1278.6" y="94.5" width="33.6" height="8.6" fill="#f1ebdc"/>
<rect x="1281" y="103.5" width="29" height="3" fill="#8a6a40"/>
<ellipse cx="1296" cy="114" rx="9" ry="2.2" fill="#b8ad98"/>
<rect x="1281" y="126" width="29" height="3" fill="#5c4a30"/>
<rect x="1410" y="93.4" width="33.6" height="38" fill="#22160e"/>
<rect x="1410" y="93.4" width="33.6" height="8.4" fill="#f3eee2"/>
<path d="M1421,102H1444V106C1436,107 1428,106 1421,102Z" fill="#d9d2c2"/>
<rect x="1413" y="124" width="27" height="3" fill="#4c3a26"/>
</g>
</g>
<text x="1644.3" y="147" font-size="35.9" fill="#fff">1 mm</text>
<rect x="1668.6" y="162.8" width="65.8" height="6.6" fill="#fff"/>
</g>
<g id="panel-d">
<text class="lbl" x="922.5" y="242.3">d</text>
<path d="M1040.3,313.9V737.3H1685.5" fill="none" stroke="#1a1a1a" stroke-width="2"/>
<path d="M1040.3,314.9h-10.4M1040.3,336.6h-6M1040.3,358.2h-10.4M1040.3,379.9h-6M1040.3,401.5h-10.4M1040.3,423.2h-6M1040.3,444.9h-10.4M1040.3,466.5h-6M1040.3,488.2h-10.4M1040.3,509.8h-6M1040.3,531.5h-10.4M1040.3,553.2h-6M1040.3,574.8h-10.4M1040.3,596.5h-6M1040.3,618.1h-10.4M1040.3,639.8h-6M1040.3,661.5h-10.4M1040.3,683.1h-6M1040.3,704.8h-10.4M1040.3,726.4h-6M1040.3,737.3v5M1076.1,737.3v7M1111.9,737.3v5M1147.7,737.3v7M1183.5,737.3v5M1219.2,737.3v7M1255.0,737.3v5M1290.8,737.3v7M1326.6,737.3v5M1362.4,737.3v7M1398.2,737.3v5M1434.0,737.3v7M1469.8,737.3v5M1505.6,737.3v7M1541.4,737.3v5M1577.2,737.3v7M1612.9,737.3v5M1648.7,737.3v7M1684.5,737.3v5" stroke="#1a1a1a" stroke-width="1.8" fill="none"/>
<text x="1021.6" y="325.4" font-size="32" text-anchor="end">1</text>
<text x="1021.6" y="412.0" font-size="32" text-anchor="end">0.8</text>
<text x="1021.6" y="498.7" font-size="32" text-anchor="end">0.6</text>
<text x="1021.6" y="585.3" font-size="32" text-anchor="end">0.4</text>
<text x="1021.6" y="672.0" font-size="32" text-anchor="end">0.2</text>
<text x="1021.6" y="736.9" font-size="32" text-anchor="end">0</text>
<text x="1076.9" y="776.3" font-size="32" text-anchor="middle">900</text>
<text x="1220.0" y="776.3" font-size="32" text-anchor="middle">1000</text>
<text x="1363.2" y="776.3" font-size="32" text-anchor="middle">1100</text>
<text x="1506.4" y="776.3" font-size="32" text-anchor="middle">1200</text>
<text x="1649.5" y="776.3" font-size="32" text-anchor="middle">1400</text>
<text x="1361.7" y="819.3" font-size="31.7" text-anchor="middle">Frequency (Hz)</text>
<text transform="translate(948.7,710.6) rotate(-90)" font-size="31.6">Scanning amplitude (mm)</text>
<path d="M1074.7,702.2L1161.5,677.8L1190.0,650.7L1198.1,638.5L1204.9,595.1L1209.0,530.0L1218.7,363.6L1221.0,383.0L1224.5,389.5L1230.4,457.9L1236.1,530.0L1244.2,570.7L1253.7,611.4L1267.3,641.2L1295.8,677.8L1339.2,702.2" fill="none" stroke="#0a0ae0" stroke-width="3.5" stroke-linejoin="round" stroke-linecap="round"/>
<path d="M1074.7,705.7L1161.5,696.0L1190.0,677.8L1198.1,669.7L1206.3,641.2L1212.2,595.1L1217.1,530.0L1221.5,467.3L1228.0,530.0L1233.4,565.3L1238.8,600.5L1247.0,627.6L1267.3,671.0L1295.8,693.3L1339.2,705.7" fill="none" stroke="#e81818" stroke-width="3.5" stroke-linejoin="round" stroke-linecap="round"/>
<path d="M1074.7,720.6L1161.5,717.1L1190.0,711.2L1196.8,696.0L1204.9,692.7L1211.7,680.5L1218.5,656.1L1221.2,619.5L1223.9,595.9L1232.0,614.1L1238.8,645.3L1245.6,656.1L1253.7,662.9L1260.5,679.2L1267.3,692.7L1295.8,717.1L1339.2,723.9" fill="none" stroke="#000" stroke-width="3.7" stroke-linejoin="round" stroke-linecap="round"/>
<path d="M1418.0,692.7L1447.8,679.2L1476.3,660.2L1491.2,627.6L1498.0,589.7L1503.4,530.0L1512.2,456.3L1519.2,472.2L1525.1,530.0L1527.8,546.3L1533.2,573.4L1541.4,596.4L1548.1,622.2L1563.0,654.7L1591.5,679.2L1620.0,689.5L1648.5,692.7" fill="none" stroke="#85841c" stroke-width="3.5" stroke-linejoin="round" stroke-linecap="round"/>
<path d="M1418.0,715.8L1447.8,698.7L1476.3,692.7L1491.2,679.2L1498.0,662.9L1504.7,611.4L1512.3,559.8L1519.1,536.8L1526.4,559.8L1533.2,600.5L1541.4,645.3L1548.1,650.7L1563.0,667.0L1591.5,690.0L1620.0,703.0L1648.5,715.8" fill="none" stroke="#f718ee" stroke-width="3.5" stroke-linejoin="round" stroke-linecap="round"/>
<path d="M1418.0,725.3L1447.8,721.7L1476.3,715.8L1491.2,706.3L1504.7,692.7L1512.3,676.4L1519.1,634.4L1526.4,618.1L1533.2,638.5L1548.1,676.4L1562.2,709.0L1591.5,715.8L1620.0,722.0L1648.5,725.3" fill="none" stroke="#0e8080" stroke-width="3.5" stroke-linejoin="round" stroke-linecap="round"/>
<path d="M1225,578.2H1505" stroke="#ff0000" stroke-width="6.2" fill="none"/>
<path d="M1243,567.3L1223.3,578.2L1243,589.1" stroke="#ff0000" stroke-width="6" fill="none" stroke-linecap="round" stroke-linejoin="round"/>
<path d="M1487.3,567.3L1507,578.2L1487.3,589.1" stroke="#ff0000" stroke-width="6" fill="none" stroke-linecap="round" stroke-linejoin="round"/>
<text x="1287.1" y="564.9" font-size="33.5" fill="#ff0000">Decoupled</text>
<text x="1282" y="621.9" font-size="33.2" fill="#ff0000">Δ<tspan class="it">f</tspan> = 208 Hz</text>
<text x="1084.4" y="472.7" font-size="31.7" fill="#ff0000">1002 Hz</text>
<text x="1367.5" y="469.6" font-size="31.7" fill="#ff00ff" xml:space="preserve">1210  Hz</text>
<text x="1214.2" y="350.3" font-size="32.7" class="it">f</text><text x="1222" y="357.5" font-size="23.6">x</text>
<text x="1503" y="422.5" font-size="32.7" class="it">f</text><text x="1511.1" y="429.7" font-size="23.6">y</text>
<path d="M1584.2,295.3H1638.4" stroke="#000" stroke-width="3.7" stroke-linecap="round"/>
<text x="1649.3" y="303.7" font-size="26.9" class="it">f</text>
<text x="1655.8" y="307.4" font-size="17.5">x</text>
<text x="1672.8" y="303.7" font-size="26.9">(20Vpp)</text>
<path d="M1584.2,324.2H1638.4" stroke="#e01010" stroke-width="3.7" stroke-linecap="round"/>
<text x="1649.3" y="332.6" font-size="26.9" class="it">f</text>
<text x="1655.8" y="336.3" font-size="17.5">x</text>
<text x="1672.8" y="332.6" font-size="26.9">(40Vpp)</text>
<path d="M1584.2,353.1H1638.4" stroke="#0808d8" stroke-width="3.7" stroke-linecap="round"/>
<text x="1649.3" y="361.5" font-size="26.9" class="it">f</text>
<text x="1655.8" y="365.2" font-size="17.5">x</text>
<text x="1672.8" y="361.5" font-size="26.9">(60Vpp)</text>
<path d="M1584.2,381.9H1638.4" stroke="#108080" stroke-width="3.7" stroke-linecap="round"/>
<text x="1649.3" y="390.3" font-size="26.9" class="it">f</text>
<text x="1655.2" y="394.0" font-size="18.5">y</text>
<text x="1672.8" y="390.3" font-size="26.9">(20Vpp)</text>
<path d="M1584.2,410.8H1638.4" stroke="#f418e8" stroke-width="3.7" stroke-linecap="round"/>
<text x="1649.3" y="419.2" font-size="26.9" class="it">f</text>
<text x="1655.2" y="422.9" font-size="18.5">y</text>
<text x="1672.8" y="419.2" font-size="26.9">(40Vpp)</text>
<path d="M1584.2,439.7H1638.4" stroke="#85841c" stroke-width="3.7" stroke-linecap="round"/>
<text x="1649.3" y="448.1" font-size="26.9" class="it">f</text>
<text x="1655.2" y="451.8" font-size="18.5">y</text>
<text x="1672.8" y="448.1" font-size="26.9">(60Vpp)</text>
</g>
<defs>
<filter id="blE1" filterUnits="userSpaceOnUse" x="1790" y="70" width="207" height="480"><feGaussianBlur stdDeviation="1.5"/></filter>
<filter id="blE2" filterUnits="userSpaceOnUse" x="1790" y="330" width="207" height="230"><feGaussianBlur stdDeviation="7"/></filter>
<filter id="blE3" x="-20%" y="-20%" width="140%" height="140%"><feGaussianBlur stdDeviation="1.5"/></filter>
<filter id="blE4" x="-20%" y="-20%" width="140%" height="140%"><feGaussianBlur stdDeviation="3"/></filter>
<clipPath id="clipE3"><rect x="1832.4" y="638.1" width="122.5" height="125.6"/></clipPath>
</defs>
<g id="panel-e">
<text class="lbl" x="1787.6" y="23.2">e</text>
<text x="1896.4" y="69.9" font-size="29.4" text-anchor="middle">X-scanning</text>
<rect x="1797" y="79.9" width="200" height="200.3" rx="2.5" fill="#000"/>
<g filter="url(#blE1)">
<path d="M1835.5,175.8H1959.5" stroke="#c8520c" stroke-width="10.5" stroke-linecap="round"/>
<path d="M1835.5,175.6H1959.5" stroke="#f8a838" stroke-width="6.8" stroke-linecap="round"/>
<path d="M1836,175.2H1958.5" stroke="#fff0a0" stroke-width="3.8" stroke-linecap="round"/>
<circle cx="1835.5" cy="175.8" r="5.4" fill="#f8c060"/>
</g>
<text x="1894.6" y="331.3" font-size="29.6" text-anchor="middle">Y-scanning</text>
<rect x="1793.6" y="341.8" width="200.8" height="200.8" rx="2" fill="#000"/>
<rect x="1864" y="362" width="50" height="150" rx="20" fill="#5a1400" opacity="0.75" filter="url(#blE2)"/>
<g filter="url(#blE1)">
<path d="M1888.7,387V488" stroke="#c85008" stroke-width="13" stroke-linecap="round"/>
<path d="M1888.7,387V488" stroke="#f8a830" stroke-width="8.5" stroke-linecap="round"/>
<path d="M1888.7,388V487" stroke="#ffea90" stroke-width="4.5" stroke-linecap="round"/>
</g>
<text x="1893.7" y="594" font-size="29.6" text-anchor="middle">XY-scanning</text>
<rect x="1793.9" y="601.3" width="199.6" height="199.7" rx="2" fill="#000"/>
<g clip-path="url(#clipE3)">
<rect x="1826" y="632" width="135" height="138" fill="#150300"/>
<rect x="1834" y="744" width="120" height="24" fill="#300800" filter="url(#blE4)"/>
<rect x="1840" y="652" width="108" height="96" rx="14" fill="#420a00" filter="url(#blE4)"/>
<g filter="url(#blE3)"><path d="M1948.0,699.5L1947.9,702.4L1947.8,705.3L1947.5,708.1L1947.0,710.9L1946.5,713.7L1945.9,716.4L1945.1,719.1L1944.2,721.7L1943.2,724.1L1942.1,726.5L1940.9,728.8L1939.6,731.0L1938.2,733.0L1936.7,734.9L1935.1,736.7L1933.4,738.3L1931.6,739.8L1929.7,741.1L1927.8,742.3L1925.7,743.2L1923.6,744.1L1921.5,744.7L1919.3,745.1L1917.0,745.4L1914.7,745.5L1912.3,745.4L1909.9,745.1L1907.4,744.7L1905.0,744.1L1902.4,743.2L1899.9,742.3L1897.4,741.1L1894.8,739.8L1892.3,738.3L1889.8,736.7L1887.2,734.9L1884.7,733.0L1882.2,731.0L1879.8,728.8L1877.3,726.5L1874.9,724.1L1872.6,721.7L1870.2,719.1L1868.0,716.4L1865.8,713.7L1863.6,710.9L1861.6,708.1L1859.6,705.3L1857.7,702.4L1855.8,699.5L1854.1,696.6L1852.4,693.7L1850.8,690.9L1849.3,688.1L1848.0,685.3L1846.7,682.6L1845.5,679.9L1844.4,677.3L1843.5,674.9L1842.6,672.5L1841.9,670.2L1841.3,668.0L1840.8,666.0L1840.4,664.1L1840.2,662.3L1840.0,660.7L1840.0,659.2L1840.1,657.9L1840.3,656.7L1840.7,655.8L1841.1,654.9L1841.7,654.3L1842.4,653.9L1843.2,653.6L1844.1,653.5L1845.1,653.6L1846.3,653.9L1847.5,654.3L1848.9,654.9L1850.3,655.8L1851.9,656.7L1853.5,657.9L1855.2,659.2L1857.0,660.7L1858.9,662.3L1860.9,664.1L1862.9,666.0L1865.1,668.0L1867.2,670.2L1869.5,672.5L1871.8,674.9L1874.1,677.3L1876.5,679.9L1878.9,682.6L1881.4,685.3L1883.9,688.1L1886.4,690.9L1888.9,693.7L1891.5,696.6L1894.0,699.5L1896.5,702.4L1899.1,705.3L1901.6,708.1L1904.1,710.9L1906.6,713.7L1909.1,716.4L1911.5,719.1L1913.9,721.7L1916.2,724.1L1918.5,726.5L1920.8,728.8L1922.9,731.0L1925.1,733.0L1927.1,734.9L1929.1,736.7L1931.0,738.3L1932.8,739.8L1934.5,741.1L1936.1,742.3L1937.7,743.2L1939.1,744.1L1940.5,744.7L1941.7,745.1L1942.9,745.4L1943.9,745.5L1944.8,745.4L1945.6,745.1L1946.3,744.7L1946.9,744.1L1947.3,743.2L1947.7,742.3L1947.9,741.1L1948.0,739.8L1948.0,738.3L1947.8,736.7L1947.6,734.9L1947.2,733.0L1946.7,731.0L1946.1,728.8L1945.4,726.5L1944.5,724.1L1943.6,721.7L1942.5,719.1L1941.3,716.4L1940.0,713.7L1938.7,710.9L1937.2,708.1L1935.6,705.3L1933.9,702.4L1932.2,699.5L1930.3,696.6L1928.4,693.7L1926.4,690.9L1924.4,688.1L1922.2,685.3L1920.0,682.6L1917.8,679.9L1915.4,677.3L1913.1,674.9L1910.7,672.5L1908.2,670.2L1905.8,668.0L1903.3,666.0L1900.8,664.1L1898.2,662.3L1895.7,660.7L1893.2,659.2L1890.6,657.9L1888.1,656.7L1885.6,655.8L1883.0,654.9L1880.6,654.3L1878.1,653.9L1875.7,653.6L1873.3,653.5L1871.0,653.6L1868.7,653.9L1866.5,654.3L1864.4,654.9L1862.3,655.8L1860.2,656.7L1858.3,657.9L1856.4,659.2L1854.6,660.7L1852.9,662.3L1851.3,664.1L1849.8,666.0L1848.4,668.0L1847.1,670.2L1845.9,672.5L1844.8,674.9L1843.8,677.3L1842.9,679.9L1842.1,682.6L1841.5,685.3L1841.0,688.1L1840.5,690.9L1840.2,693.7L1840.1,696.6L1840.0,699.5L1840.1,702.4L1840.2,705.3L1840.5,708.1L1841.0,710.9L1841.5,713.7L1842.1,716.4L1842.9,719.1L1843.8,721.7L1844.8,724.1L1845.9,726.5L1847.1,728.8L1848.4,731.0L1849.8,733.0L1851.3,734.9L1852.9,736.7L1854.6,738.3L1856.4,739.8L1858.3,741.1L1860.2,742.3L1862.3,743.2L1864.4,744.1L1866.5,744.7L1868.7,745.1L1871.0,745.4L1873.3,745.5L1875.7,745.4L1878.1,745.1L1880.6,744.7L1883.0,744.1L1885.6,743.2L1888.1,742.3L1890.6,741.1L1893.2,739.8L1895.7,738.3L1898.2,736.7L1900.8,734.9L1903.3,733.0L1905.8,731.0L1908.2,728.8L1910.7,726.5L1913.1,724.1L1915.4,721.7L1917.8,719.1L1920.0,716.4L1922.2,713.7L1924.4,710.9L1926.4,708.1L1928.4,705.3L1930.3,702.4L1932.2,699.5L1933.9,696.6L1935.6,693.7L1937.2,690.9L1938.7,688.1L1940.0,685.3L1941.3,682.6L1942.5,679.9L1943.6,677.3L1944.5,674.9L1945.4,672.5L1946.1,670.2L1946.7,668.0L1947.2,666.0L1947.6,664.1L1947.8,662.3L1948.0,660.7L1948.0,659.2L1947.9,657.9L1947.7,656.7L1947.3,655.8L1946.9,654.9L1946.3,654.3L1945.6,653.9L1944.8,653.6L1943.9,653.5L1942.9,653.6L1941.7,653.9L1940.5,654.3L1939.1,654.9L1937.7,655.8L1936.1,656.7L1934.5,657.9L1932.8,659.2L1931.0,660.7L1929.1,662.3L1927.1,664.1L1925.1,666.0L1922.9,668.0L1920.8,670.2L1918.5,672.5L1916.2,674.9L1913.9,677.3L1911.5,679.9L1909.1,682.6L1906.6,685.3L1904.1,688.1L1901.6,690.9L1899.1,693.7L1896.5,696.6L1894.0,699.5L1891.5,702.4L1888.9,705.3L1886.4,708.1L1883.9,710.9L1881.4,713.7L1878.9,716.4L1876.5,719.1L1874.1,721.7L1871.8,724.1L1869.5,726.5L1867.2,728.8L1865.1,731.0L1862.9,733.0L1860.9,734.9L1858.9,736.7L1857.0,738.3L1855.2,739.8L1853.5,741.1L1851.9,742.3L1850.3,743.2L1848.9,744.1L1847.5,744.7L1846.3,745.1L1845.1,745.4L1844.1,745.5L1843.2,745.4L1842.4,745.1L1841.7,744.7L1841.1,744.1L1840.7,743.2L1840.3,742.3L1840.1,741.1L1840.0,739.8L1840.0,738.3L1840.2,736.7L1840.4,734.9L1840.8,733.0L1841.3,731.0L1841.9,728.8L1842.6,726.5L1843.5,724.1L1844.4,721.7L1845.5,719.1L1846.7,716.4L1848.0,713.7L1849.3,710.9L1850.8,708.1L1852.4,705.3L1854.1,702.4L1855.8,699.5L1857.7,696.6L1859.6,693.7L1861.6,690.9L1863.6,688.1L1865.8,685.3L1868.0,682.6L1870.2,679.9L1872.6,677.3L1874.9,674.9L1877.3,672.5L1879.8,670.2L1882.2,668.0L1884.7,666.0L1887.2,664.1L1889.8,662.3L1892.3,660.7L1894.8,659.2L1897.4,657.9L1899.9,656.7L1902.4,655.8L1905.0,654.9L1907.4,654.3L1909.9,653.9L1912.3,653.6L1914.7,653.5L1917.0,653.6L1919.3,653.9L1921.5,654.3L1923.6,654.9L1925.7,655.8L1927.8,656.7L1929.7,657.9L1931.6,659.2L1933.4,660.7L1935.1,662.3L1936.7,664.1L1938.2,666.0L1939.6,668.0L1940.9,670.2L1942.1,672.5L1943.2,674.9L1944.2,677.3L1945.1,679.9L1945.9,682.6L1946.5,685.3L1947.0,688.1L1947.5,690.9L1947.8,693.7L1947.9,696.6L1948.0,699.5" fill="none" stroke="#cc4c0a" stroke-width="11" stroke-linejoin="round"/><path d="M1948.0,699.5L1947.9,702.4L1947.8,705.3L1947.5,708.1L1947.0,710.9L1946.5,713.7L1945.9,716.4L1945.1,719.1L1944.2,721.7L1943.2,724.1L1942.1,726.5L1940.9,728.8L1939.6,731.0L1938.2,733.0L1936.7,734.9L1935.1,736.7L1933.4,738.3L1931.6,739.8L1929.7,741.1L1927.8,742.3L1925.7,743.2L1923.6,744.1L1921.5,744.7L1919.3,745.1L1917.0,745.4L1914.7,745.5L1912.3,745.4L1909.9,745.1L1907.4,744.7L1905.0,744.1L1902.4,743.2L1899.9,742.3L1897.4,741.1L1894.8,739.8L1892.3,738.3L1889.8,736.7L1887.2,734.9L1884.7,733.0L1882.2,731.0L1879.8,728.8L1877.3,726.5L1874.9,724.1L1872.6,721.7L1870.2,719.1L1868.0,716.4L1865.8,713.7L1863.6,710.9L1861.6,708.1L1859.6,705.3L1857.7,702.4L1855.8,699.5L1854.1,696.6L1852.4,693.7L1850.8,690.9L1849.3,688.1L1848.0,685.3L1846.7,682.6L1845.5,679.9L1844.4,677.3L1843.5,674.9L1842.6,672.5L1841.9,670.2L1841.3,668.0L1840.8,666.0L1840.4,664.1L1840.2,662.3L1840.0,660.7L1840.0,659.2L1840.1,657.9L1840.3,656.7L1840.7,655.8L1841.1,654.9L1841.7,654.3L1842.4,653.9L1843.2,653.6L1844.1,653.5L1845.1,653.6L1846.3,653.9L1847.5,654.3L1848.9,654.9L1850.3,655.8L1851.9,656.7L1853.5,657.9L1855.2,659.2L1857.0,660.7L1858.9,662.3L1860.9,664.1L1862.9,666.0L1865.1,668.0L1867.2,670.2L1869.5,672.5L1871.8,674.9L1874.1,677.3L1876.5,679.9L1878.9,682.6L1881.4,685.3L1883.9,688.1L1886.4,690.9L1888.9,693.7L1891.5,696.6L1894.0,699.5L1896.5,702.4L1899.1,705.3L1901.6,708.1L1904.1,710.9L1906.6,713.7L1909.1,716.4L1911.5,719.1L1913.9,721.7L1916.2,724.1L1918.5,726.5L1920.8,728.8L1922.9,731.0L1925.1,733.0L1927.1,734.9L1929.1,736.7L1931.0,738.3L1932.8,739.8L1934.5,741.1L1936.1,742.3L1937.7,743.2L1939.1,744.1L1940.5,744.7L1941.7,745.1L1942.9,745.4L1943.9,745.5L1944.8,745.4L1945.6,745.1L1946.3,744.7L1946.9,744.1L1947.3,743.2L1947.7,742.3L1947.9,741.1L1948.0,739.8L1948.0,738.3L1947.8,736.7L1947.6,734.9L1947.2,733.0L1946.7,731.0L1946.1,728.8L1945.4,726.5L1944.5,724.1L1943.6,721.7L1942.5,719.1L1941.3,716.4L1940.0,713.7L1938.7,710.9L1937.2,708.1L1935.6,705.3L1933.9,702.4L1932.2,699.5L1930.3,696.6L1928.4,693.7L1926.4,690.9L1924.4,688.1L1922.2,685.3L1920.0,682.6L1917.8,679.9L1915.4,677.3L1913.1,674.9L1910.7,672.5L1908.2,670.2L1905.8,668.0L1903.3,666.0L1900.8,664.1L1898.2,662.3L1895.7,660.7L1893.2,659.2L1890.6,657.9L1888.1,656.7L1885.6,655.8L1883.0,654.9L1880.6,654.3L1878.1,653.9L1875.7,653.6L1873.3,653.5L1871.0,653.6L1868.7,653.9L1866.5,654.3L1864.4,654.9L1862.3,655.8L1860.2,656.7L1858.3,657.9L1856.4,659.2L1854.6,660.7L1852.9,662.3L1851.3,664.1L1849.8,666.0L1848.4,668.0L1847.1,670.2L1845.9,672.5L1844.8,674.9L1843.8,677.3L1842.9,679.9L1842.1,682.6L1841.5,685.3L1841.0,688.1L1840.5,690.9L1840.2,693.7L1840.1,696.6L1840.0,699.5L1840.1,702.4L1840.2,705.3L1840.5,708.1L1841.0,710.9L1841.5,713.7L1842.1,716.4L1842.9,719.1L1843.8,721.7L1844.8,724.1L1845.9,726.5L1847.1,728.8L1848.4,731.0L1849.8,733.0L1851.3,734.9L1852.9,736.7L1854.6,738.3L1856.4,739.8L1858.3,741.1L1860.2,742.3L1862.3,743.2L1864.4,744.1L1866.5,744.7L1868.7,745.1L1871.0,745.4L1873.3,745.5L1875.7,745.4L1878.1,745.1L1880.6,744.7L1883.0,744.1L1885.6,743.2L1888.1,742.3L1890.6,741.1L1893.2,739.8L1895.7,738.3L1898.2,736.7L1900.8,734.9L1903.3,733.0L1905.8,731.0L1908.2,728.8L1910.7,726.5L1913.1,724.1L1915.4,721.7L1917.8,719.1L1920.0,716.4L1922.2,713.7L1924.4,710.9L1926.4,708.1L1928.4,705.3L1930.3,702.4L1932.2,699.5L1933.9,696.6L1935.6,693.7L1937.2,690.9L1938.7,688.1L1940.0,685.3L1941.3,682.6L1942.5,679.9L1943.6,677.3L1944.5,674.9L1945.4,672.5L1946.1,670.2L1946.7,668.0L1947.2,666.0L1947.6,664.1L1947.8,662.3L1948.0,660.7L1948.0,659.2L1947.9,657.9L1947.7,656.7L1947.3,655.8L1946.9,654.9L1946.3,654.3L1945.6,653.9L1944.8,653.6L1943.9,653.5L1942.9,653.6L1941.7,653.9L1940.5,654.3L1939.1,654.9L1937.7,655.8L1936.1,656.7L1934.5,657.9L1932.8,659.2L1931.0,660.7L1929.1,662.3L1927.1,664.1L1925.1,666.0L1922.9,668.0L1920.8,670.2L1918.5,672.5L1916.2,674.9L1913.9,677.3L1911.5,679.9L1909.1,682.6L1906.6,685.3L1904.1,688.1L1901.6,690.9L1899.1,693.7L1896.5,696.6L1894.0,699.5L1891.5,702.4L1888.9,705.3L1886.4,708.1L1883.9,710.9L1881.4,713.7L1878.9,716.4L1876.5,719.1L1874.1,721.7L1871.8,724.1L1869.5,726.5L1867.2,728.8L1865.1,731.0L1862.9,733.0L1860.9,734.9L1858.9,736.7L1857.0,738.3L1855.2,739.8L1853.5,741.1L1851.9,742.3L1850.3,743.2L1848.9,744.1L1847.5,744.7L1846.3,745.1L1845.1,745.4L1844.1,745.5L1843.2,745.4L1842.4,745.1L1841.7,744.7L1841.1,744.1L1840.7,743.2L1840.3,742.3L1840.1,741.1L1840.0,739.8L1840.0,738.3L1840.2,736.7L1840.4,734.9L1840.8,733.0L1841.3,731.0L1841.9,728.8L1842.6,726.5L1843.5,724.1L1844.4,721.7L1845.5,719.1L1846.7,716.4L1848.0,713.7L1849.3,710.9L1850.8,708.1L1852.4,705.3L1854.1,702.4L1855.8,699.5L1857.7,696.6L1859.6,693.7L1861.6,690.9L1863.6,688.1L1865.8,685.3L1868.0,682.6L1870.2,679.9L1872.6,677.3L1874.9,674.9L1877.3,672.5L1879.8,670.2L1882.2,668.0L1884.7,666.0L1887.2,664.1L1889.8,662.3L1892.3,660.7L1894.8,659.2L1897.4,657.9L1899.9,656.7L1902.4,655.8L1905.0,654.9L1907.4,654.3L1909.9,653.9L1912.3,653.6L1914.7,653.5L1917.0,653.6L1919.3,653.9L1921.5,654.3L1923.6,654.9L1925.7,655.8L1927.8,656.7L1929.7,657.9L1931.6,659.2L1933.4,660.7L1935.1,662.3L1936.7,664.1L1938.2,666.0L1939.6,668.0L1940.9,670.2L1942.1,672.5L1943.2,674.9L1944.2,677.3L1945.1,679.9L1945.9,682.6L1946.5,685.3L1947.0,688.1L1947.5,690.9L1947.8,693.7L1947.9,696.6L1948.0,699.5" fill="none" stroke="#f58632" stroke-width="6.4" stroke-linejoin="round"/><path d="M1948.0,699.5L1947.9,702.4L1947.8,705.3L1947.5,708.1L1947.0,710.9L1946.5,713.7L1945.9,716.4L1945.1,719.1L1944.2,721.7L1943.2,724.1L1942.1,726.5L1940.9,728.8L1939.6,731.0L1938.2,733.0L1936.7,734.9L1935.1,736.7L1933.4,738.3L1931.6,739.8L1929.7,741.1L1927.8,742.3L1925.7,743.2L1923.6,744.1L1921.5,744.7L1919.3,745.1L1917.0,745.4L1914.7,745.5L1912.3,745.4L1909.9,745.1L1907.4,744.7L1905.0,744.1L1902.4,743.2L1899.9,742.3L1897.4,741.1L1894.8,739.8L1892.3,738.3L1889.8,736.7L1887.2,734.9L1884.7,733.0L1882.2,731.0L1879.8,728.8L1877.3,726.5L1874.9,724.1L1872.6,721.7L1870.2,719.1L1868.0,716.4L1865.8,713.7L1863.6,710.9L1861.6,708.1L1859.6,705.3L1857.7,702.4L1855.8,699.5L1854.1,696.6L1852.4,693.7L1850.8,690.9L1849.3,688.1L1848.0,685.3L1846.7,682.6L1845.5,679.9L1844.4,677.3L1843.5,674.9L1842.6,672.5L1841.9,670.2L1841.3,668.0L1840.8,666.0L1840.4,664.1L1840.2,662.3L1840.0,660.7L1840.0,659.2L1840.1,657.9L1840.3,656.7L1840.7,655.8L1841.1,654.9L1841.7,654.3L1842.4,653.9L1843.2,653.6L1844.1,653.5L1845.1,653.6L1846.3,653.9L1847.5,654.3L1848.9,654.9L1850.3,655.8L1851.9,656.7L1853.5,657.9L1855.2,659.2L1857.0,660.7L1858.9,662.3L1860.9,664.1L1862.9,666.0L1865.1,668.0L1867.2,670.2L1869.5,672.5L1871.8,674.9L1874.1,677.3L1876.5,679.9L1878.9,682.6L1881.4,685.3L1883.9,688.1L1886.4,690.9L1888.9,693.7L1891.5,696.6L1894.0,699.5L1896.5,702.4L1899.1,705.3L1901.6,708.1L1904.1,710.9L1906.6,713.7L1909.1,716.4L1911.5,719.1L1913.9,721.7L1916.2,724.1L1918.5,726.5L1920.8,728.8L1922.9,731.0L1925.1,733.0L1927.1,734.9L1929.1,736.7L1931.0,738.3L1932.8,739.8L1934.5,741.1L1936.1,742.3L1937.7,743.2L1939.1,744.1L1940.5,744.7L1941.7,745.1L1942.9,745.4L1943.9,745.5L1944.8,745.4L1945.6,745.1L1946.3,744.7L1946.9,744.1L1947.3,743.2L1947.7,742.3L1947.9,741.1L1948.0,739.8L1948.0,738.3L1947.8,736.7L1947.6,734.9L1947.2,733.0L1946.7,731.0L1946.1,728.8L1945.4,726.5L1944.5,724.1L1943.6,721.7L1942.5,719.1L1941.3,716.4L1940.0,713.7L1938.7,710.9L1937.2,708.1L1935.6,705.3L1933.9,702.4L1932.2,699.5L1930.3,696.6L1928.4,693.7L1926.4,690.9L1924.4,688.1L1922.2,685.3L1920.0,682.6L1917.8,679.9L1915.4,677.3L1913.1,674.9L1910.7,672.5L1908.2,670.2L1905.8,668.0L1903.3,666.0L1900.8,664.1L1898.2,662.3L1895.7,660.7L1893.2,659.2L1890.6,657.9L1888.1,656.7L1885.6,655.8L1883.0,654.9L1880.6,654.3L1878.1,653.9L1875.7,653.6L1873.3,653.5L1871.0,653.6L1868.7,653.9L1866.5,654.3L1864.4,654.9L1862.3,655.8L1860.2,656.7L1858.3,657.9L1856.4,659.2L1854.6,660.7L1852.9,662.3L1851.3,664.1L1849.8,666.0L1848.4,668.0L1847.1,670.2L1845.9,672.5L1844.8,674.9L1843.8,677.3L1842.9,679.9L1842.1,682.6L1841.5,685.3L1841.0,688.1L1840.5,690.9L1840.2,693.7L1840.1,696.6L1840.0,699.5L1840.1,702.4L1840.2,705.3L1840.5,708.1L1841.0,710.9L1841.5,713.7L1842.1,716.4L1842.9,719.1L1843.8,721.7L1844.8,724.1L1845.9,726.5L1847.1,728.8L1848.4,731.0L1849.8,733.0L1851.3,734.9L1852.9,736.7L1854.6,738.3L1856.4,739.8L1858.3,741.1L1860.2,742.3L1862.3,743.2L1864.4,744.1L1866.5,744.7L1868.7,745.1L1871.0,745.4L1873.3,745.5L1875.7,745.4L1878.1,745.1L1880.6,744.7L1883.0,744.1L1885.6,743.2L1888.1,742.3L1890.6,741.1L1893.2,739.8L1895.7,738.3L1898.2,736.7L1900.8,734.9L1903.3,733.0L1905.8,731.0L1908.2,728.8L1910.7,726.5L1913.1,724.1L1915.4,721.7L1917.8,719.1L1920.0,716.4L1922.2,713.7L1924.4,710.9L1926.4,708.1L1928.4,705.3L1930.3,702.4L1932.2,699.5L1933.9,696.6L1935.6,693.7L1937.2,690.9L1938.7,688.1L1940.0,685.3L1941.3,682.6L1942.5,679.9L1943.6,677.3L1944.5,674.9L1945.4,672.5L1946.1,670.2L1946.7,668.0L1947.2,666.0L1947.6,664.1L1947.8,662.3L1948.0,660.7L1948.0,659.2L1947.9,657.9L1947.7,656.7L1947.3,655.8L1946.9,654.9L1946.3,654.3L1945.6,653.9L1944.8,653.6L1943.9,653.5L1942.9,653.6L1941.7,653.9L1940.5,654.3L1939.1,654.9L1937.7,655.8L1936.1,656.7L1934.5,657.9L1932.8,659.2L1931.0,660.7L1929.1,662.3L1927.1,664.1L1925.1,666.0L1922.9,668.0L1920.8,670.2L1918.5,672.5L1916.2,674.9L1913.9,677.3L1911.5,679.9L1909.1,682.6L1906.6,685.3L1904.1,688.1L1901.6,690.9L1899.1,693.7L1896.5,696.6L1894.0,699.5L1891.5,702.4L1888.9,705.3L1886.4,708.1L1883.9,710.9L1881.4,713.7L1878.9,716.4L1876.5,719.1L1874.1,721.7L1871.8,724.1L1869.5,726.5L1867.2,728.8L1865.1,731.0L1862.9,733.0L1860.9,734.9L1858.9,736.7L1857.0,738.3L1855.2,739.8L1853.5,741.1L1851.9,742.3L1850.3,743.2L1848.9,744.1L1847.5,744.7L1846.3,745.1L1845.1,745.4L1844.1,745.5L1843.2,745.4L1842.4,745.1L1841.7,744.7L1841.1,744.1L1840.7,743.2L1840.3,742.3L1840.1,741.1L1840.0,739.8L1840.0,738.3L1840.2,736.7L1840.4,734.9L1840.8,733.0L1841.3,731.0L1841.9,728.8L1842.6,726.5L1843.5,724.1L1844.4,721.7L1845.5,719.1L1846.7,716.4L1848.0,713.7L1849.3,710.9L1850.8,708.1L1852.4,705.3L1854.1,702.4L1855.8,699.5L1857.7,696.6L1859.6,693.7L1861.6,690.9L1863.6,688.1L1865.8,685.3L1868.0,682.6L1870.2,679.9L1872.6,677.3L1874.9,674.9L1877.3,672.5L1879.8,670.2L1882.2,668.0L1884.7,666.0L1887.2,664.1L1889.8,662.3L1892.3,660.7L1894.8,659.2L1897.4,657.9L1899.9,656.7L1902.4,655.8L1905.0,654.9L1907.4,654.3L1909.9,653.9L1912.3,653.6L1914.7,653.5L1917.0,653.6L1919.3,653.9L1921.5,654.3L1923.6,654.9L1925.7,655.8L1927.8,656.7L1929.7,657.9L1931.6,659.2L1933.4,660.7L1935.1,662.3L1936.7,664.1L1938.2,666.0L1939.6,668.0L1940.9,670.2L1942.1,672.5L1943.2,674.9L1944.2,677.3L1945.1,679.9L1945.9,682.6L1946.5,685.3L1947.0,688.1L1947.5,690.9L1947.8,693.7L1947.9,696.6L1948.0,699.5" fill="none" stroke="#ffa44c" stroke-width="2.2" stroke-linejoin="round" opacity="0.7"/></g>
<circle cx="1839.5" cy="653" r="3.6" fill="#ffd890" opacity="0.8" filter="url(#blE3)"/>
</g>
<rect x="1879.3" y="783.2" width="95.4" height="6" fill="#fff"/>
</g>
</svg>
</body></html>
